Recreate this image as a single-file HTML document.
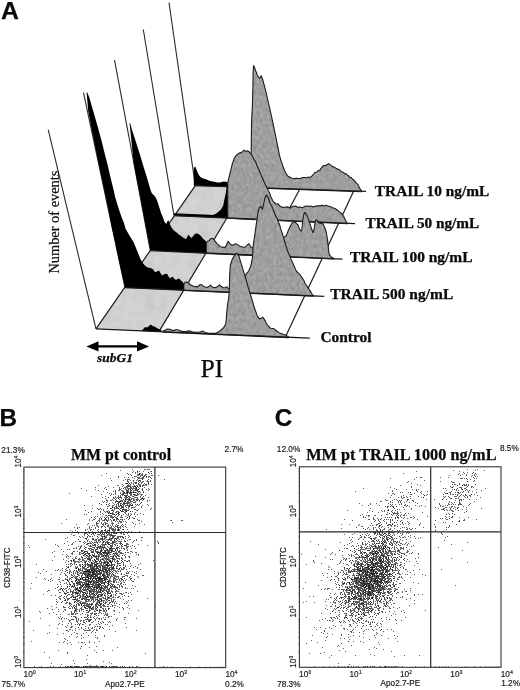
<!DOCTYPE html>
<html><head><meta charset="utf-8"><title>Figure</title>
<style>
html,body{margin:0;padding:0;background:#fff;}
body{width:520px;height:690px;overflow:hidden;font-family:"Liberation Sans",sans-serif;}
svg{display:block;}
</style></head><body>
<svg width="520" height="690" viewBox="0 0 520 690">
<defs>
<filter id="nz" x="0" y="0" width="100%" height="100%"><feTurbulence type="fractalNoise" baseFrequency="0.09" numOctaves="2" seed="3" result="t"/><feColorMatrix in="t" type="matrix" values="0 0 0 0 0  0 0 0 0 0  0 0 0 0 0  0.9 0 0 0 -0.38" result="a"/><feFlood flood-color="#b4b4b4"/><feComposite in2="a" operator="in" result="n"/><feMerge><feMergeNode in="SourceGraphic"/><feMergeNode in="n"/></feMerge><feComposite in2="SourceGraphic" operator="in"/></filter>
<filter id="nh" x="0" y="0" width="100%" height="100%"><feTurbulence type="fractalNoise" baseFrequency="0.35 0.22" numOctaves="2" seed="8" result="t"/><feColorMatrix in="t" type="matrix" values="0 0 0 0 0  0 0 0 0 0  0 0 0 0 0  1.1 0 0 0 -0.42" result="a"/><feFlood flood-color="#7c7c7c"/><feComposite in2="a" operator="in" result="n"/><feTurbulence type="fractalNoise" baseFrequency="0.3 0.25" numOctaves="2" seed="21" result="t2"/><feColorMatrix in="t2" type="matrix" values="0 0 0 0 0  0 0 0 0 0  0 0 0 0 0  1.0 0 0 0 -0.42" result="a2"/><feFlood flood-color="#c4c4c4"/><feComposite in2="a2" operator="in" result="n2"/><feMerge><feMergeNode in="SourceGraphic"/><feMergeNode in="n"/><feMergeNode in="n2"/></feMerge><feComposite in2="SourceGraphic" operator="in"/></filter>
</defs>
<rect width="520" height="690" fill="#fff"/>
<g id="panelA" opacity="0.999">
<polygon points="96.0,328.8 159.0,331.6 183.7,290.2 125.0,287.7" fill="#d3d3d3" filter="url(#nz)"/>
<polygon points="125.0,287.7 183.7,290.2 206.0,253.0 150.3,250.6" fill="#d3d3d3" filter="url(#nz)"/>
<polygon points="150.3,250.6 206.0,253.0 226.9,218.0 174.0,215.6" fill="#d3d3d3" filter="url(#nz)"/>
<polygon points="174.0,215.6 226.9,218.0 245.3,187.3 195.3,185.6" fill="#d3d3d3" filter="url(#nz)"/>
<line x1="96.0" y1="328.8" x2="195.3" y2="185.6" stroke="#1a1a1a" stroke-width="1.2"/>
<line x1="159.0" y1="331.6" x2="245.3" y2="187.3" stroke="#1a1a1a" stroke-width="1.2"/>
<line x1="283.1" y1="220.5" x2="299.7" y2="189.2" stroke="#1a1a1a" stroke-width="1.2"/>
<line x1="285.4" y1="337.1" x2="353.7" y2="191.0" stroke="#1a1a1a" stroke-width="1.2"/>
<line x1="169.0" y1="2.5" x2="195.3" y2="185.6" stroke="#2b2b2b" stroke-width="1.1"/>
<polygon points="227.5,182.5 228.9,182.5 230.3,181.7 231.7,181.8 233.1,181.5 234.4,181.9 235.8,181.7 237.2,181.7 238.6,180.7 240.0,180.9 241.4,180.4 242.8,180.5 244.1,180.6 245.5,180.0 246.9,180.1 248.2,180.4 249.6,180.2 251.0,179.7 251.0,178.7 251.0,177.3 251.0,176.0 251.0,174.7 251.0,173.3 251.1,172.0 251.1,170.7 251.1,169.4 251.1,168.0 251.1,166.7 251.1,165.3 251.1,164.0 251.1,162.7 251.1,161.3 251.1,160.0 251.2,158.7 251.2,157.4 251.2,156.0 251.2,154.7 251.2,153.3 251.2,152.0 251.2,150.7 251.2,149.3 251.2,148.0 251.3,146.6 251.3,145.3 251.3,144.0 251.3,142.6 251.3,141.3 251.3,140.0 251.4,138.7 251.4,137.3 251.4,136.0 251.4,134.7 251.4,133.3 251.4,132.0 251.5,130.7 251.5,129.3 251.5,128.0 251.5,126.7 251.5,125.3 251.5,124.0 251.6,122.7 251.6,121.4 251.6,120.0 251.7,118.6 251.8,117.2 251.8,115.9 251.9,114.4 252.0,113.0 252.1,111.5 252.2,110.2 252.2,108.8 252.3,107.4 252.4,106.1 252.4,104.7 252.5,103.3 252.5,102.0 252.5,100.7 252.6,99.4 252.6,98.0 252.6,96.6 252.7,95.3 252.7,94.0 252.7,92.6 252.8,91.3 252.8,90.0 252.8,88.7 252.9,87.3 252.9,86.0 252.9,84.7 252.9,83.3 253.0,82.0 253.0,80.6 253.0,79.3 253.0,78.0 253.1,76.7 253.1,75.3 253.1,74.0 253.1,72.7 253.2,71.3 253.2,70.0 253.4,68.5 253.6,66.7 253.8,65.4 254.2,66.7 254.7,68.0 255.2,69.4 255.7,71.1 256.4,72.5 257.0,74.5 257.8,75.7 258.5,77.3 259.7,78.3 261.2,75.8 261.8,77.3 262.4,78.3 262.8,80.0 263.1,81.3 263.5,82.3 263.8,83.8 264.2,85.0 264.6,86.3 264.9,87.9 265.3,89.2 265.6,90.7 266.0,92.0 266.3,93.1 266.6,94.6 266.9,95.8 267.2,97.5 267.5,98.8 267.8,100.1 268.1,101.3 268.4,102.6 268.7,104.2 269.0,105.6 269.3,106.7 269.7,108.2 270.0,109.4 270.3,111.0 270.6,112.4 270.9,113.5 271.2,115.0 271.5,116.4 271.8,117.6 272.1,119.2 272.4,120.4 272.7,121.7 272.9,123.2 273.2,124.6 273.5,125.8 273.8,127.2 274.1,128.8 274.4,130.1 274.7,131.3 274.9,132.6 275.2,133.8 275.4,135.1 275.7,136.4 276.0,137.8 276.2,139.0 276.5,140.3 276.7,141.6 277.0,143.0 277.3,144.2 277.5,145.8 277.8,147.1 278.1,148.2 278.3,149.6 278.6,151.1 278.9,152.2 279.1,153.5 279.4,155.1 279.8,156.4 280.2,157.7 280.6,159.3 281.0,160.6 281.4,161.7 281.9,162.9 282.3,164.4 282.8,165.7 283.2,167.0 283.8,168.5 284.3,169.8 284.8,171.4 285.4,172.3 286.1,173.5 286.8,174.6 287.5,176.0 288.8,176.5 290.0,177.3 291.2,178.0 292.5,178.3 295.0,178.6 296.5,178.2 298.0,178.4 300.0,178.5 301.2,178.4 302.5,177.5 305.0,177.5 306.2,177.9 307.5,177.1 310.0,177.5 312.0,175.9 313.5,174.3 315.0,172.2 317.0,172.0 318.5,170.4 320.0,169.9 321.5,167.7 323.0,165.9 324.5,165.6 326.0,165.4 327.5,164.2 328.8,163.6 330.5,164.9 332.5,166.6 334.0,167.0 335.5,168.0 337.5,169.0 338.8,169.4 340.0,170.3 341.2,171.7 342.5,172.1 343.8,172.8 345.0,173.8 346.2,173.9 347.5,175.1 348.8,176.0 350.0,177.3 351.2,177.6 352.5,179.2 353.8,179.8 355.0,181.3 356.2,182.8 357.5,184.1 358.2,185.3 359.0,186.8 359.8,188.5 360.5,189.4 361.5,190.8 361.5,191.6 227.5,187.0" fill="#9f9f9f" filter="url(#nh)"/>
<polygon points="227.5,182.5 228.9,182.5 230.3,181.7 231.7,181.8 233.1,181.5 234.4,181.9 235.8,181.7 237.2,181.7 238.6,180.7 240.0,180.9 241.4,180.4 242.8,180.5 244.1,180.6 245.5,180.0 246.9,180.1 248.2,180.4 249.6,180.2 251.0,179.7 251.0,178.7 251.0,177.3 251.0,176.0 251.0,174.7 251.0,173.3 251.1,172.0 251.1,170.7 251.1,169.4 251.1,168.0 251.1,166.7 251.1,165.3 251.1,164.0 251.1,162.7 251.1,161.3 251.1,160.0 251.2,158.7 251.2,157.4 251.2,156.0 251.2,154.7 251.2,153.3 251.2,152.0 251.2,150.7 251.2,149.3 251.2,148.0 251.3,146.6 251.3,145.3 251.3,144.0 251.3,142.6 251.3,141.3 251.3,140.0 251.4,138.7 251.4,137.3 251.4,136.0 251.4,134.7 251.4,133.3 251.4,132.0 251.5,130.7 251.5,129.3 251.5,128.0 251.5,126.7 251.5,125.3 251.5,124.0 251.6,122.7 251.6,121.4 251.6,120.0 251.7,118.6 251.8,117.2 251.8,115.9 251.9,114.4 252.0,113.0 252.1,111.5 252.2,110.2 252.2,108.8 252.3,107.4 252.4,106.1 252.4,104.7 252.5,103.3 252.5,102.0 252.5,100.7 252.6,99.4 252.6,98.0 252.6,96.6 252.7,95.3 252.7,94.0 252.7,92.6 252.8,91.3 252.8,90.0 252.8,88.7 252.9,87.3 252.9,86.0 252.9,84.7 252.9,83.3 253.0,82.0 253.0,80.6 253.0,79.3 253.0,78.0 253.1,76.7 253.1,75.3 253.1,74.0 253.1,72.7 253.2,71.3 253.2,70.0 253.4,68.5 253.6,66.7 253.8,65.4 254.2,66.7 254.7,68.0 255.2,69.4 255.7,71.1 256.4,72.5 257.0,74.5 257.8,75.7 258.5,77.3 259.7,78.3 261.2,75.8 261.8,77.3 262.4,78.3 262.8,80.0 263.1,81.3 263.5,82.3 263.8,83.8 264.2,85.0 264.6,86.3 264.9,87.9 265.3,89.2 265.6,90.7 266.0,92.0 266.3,93.1 266.6,94.6 266.9,95.8 267.2,97.5 267.5,98.8 267.8,100.1 268.1,101.3 268.4,102.6 268.7,104.2 269.0,105.6 269.3,106.7 269.7,108.2 270.0,109.4 270.3,111.0 270.6,112.4 270.9,113.5 271.2,115.0 271.5,116.4 271.8,117.6 272.1,119.2 272.4,120.4 272.7,121.7 272.9,123.2 273.2,124.6 273.5,125.8 273.8,127.2 274.1,128.8 274.4,130.1 274.7,131.3 274.9,132.6 275.2,133.8 275.4,135.1 275.7,136.4 276.0,137.8 276.2,139.0 276.5,140.3 276.7,141.6 277.0,143.0 277.3,144.2 277.5,145.8 277.8,147.1 278.1,148.2 278.3,149.6 278.6,151.1 278.9,152.2 279.1,153.5 279.4,155.1 279.8,156.4 280.2,157.7 280.6,159.3 281.0,160.6 281.4,161.7 281.9,162.9 282.3,164.4 282.8,165.7 283.2,167.0 283.8,168.5 284.3,169.8 284.8,171.4 285.4,172.3 286.1,173.5 286.8,174.6 287.5,176.0 288.8,176.5 290.0,177.3 291.2,178.0 292.5,178.3 295.0,178.6 296.5,178.2 298.0,178.4 300.0,178.5 301.2,178.4 302.5,177.5 305.0,177.5 306.2,177.9 307.5,177.1 310.0,177.5 312.0,175.9 313.5,174.3 315.0,172.2 317.0,172.0 318.5,170.4 320.0,169.9 321.5,167.7 323.0,165.9 324.5,165.6 326.0,165.4 327.5,164.2 328.8,163.6 330.5,164.9 332.5,166.6 334.0,167.0 335.5,168.0 337.5,169.0 338.8,169.4 340.0,170.3 341.2,171.7 342.5,172.1 343.8,172.8 345.0,173.8 346.2,173.9 347.5,175.1 348.8,176.0 350.0,177.3 351.2,177.6 352.5,179.2 353.8,179.8 355.0,181.3 356.2,182.8 357.5,184.1 358.2,185.3 359.0,186.8 359.8,188.5 360.5,189.4 361.5,190.8 361.5,191.6 227.5,187.0" fill="none" stroke="#1a1a1a" stroke-width="1.1" stroke-linejoin="round"/>
<polygon points="193.8,168.0 195.3,166.5 197.0,171.0 198.5,174.5 200.4,177.0 203.0,178.5 206.0,179.3 210.0,181.0 213.0,181.6 217.5,182.4 220.0,182.6 223.7,181.4 226.0,181.8 227.5,182.5 227.5,187.0 193.8,185.8" fill="#000"/>
<line x1="195.3" y1="185.6" x2="366.0" y2="191.4" stroke="#1a1a1a" stroke-width="1.3"/>
<line x1="143.3" y1="29.5" x2="174.0" y2="215.6" stroke="#2b2b2b" stroke-width="1.1"/>
<polygon points="227.7,182.8 228.0,181.6 228.3,180.2 228.6,179.0 228.9,177.7 229.2,176.6 229.6,174.8 229.9,173.6 230.3,171.9 230.6,170.6 231.0,169.4 231.3,167.9 231.6,166.5 232.0,165.3 232.3,163.6 232.9,162.1 233.4,160.8 233.9,159.5 234.5,157.8 235.7,156.1 237.0,154.6 238.3,153.8 240.0,152.6 241.5,153.0 243.0,150.9 244.5,150.3 246.0,151.6 247.5,150.8 248.8,151.4 249.7,152.7 250.5,153.5 251.5,154.5 252.5,156.5 253.2,157.4 253.8,158.9 254.5,160.3 255.1,161.1 255.7,162.3 256.3,163.6 256.9,165.2 257.4,166.5 258.0,168.1 258.7,169.6 259.3,170.8 260.0,172.6 260.7,173.9 261.3,175.5 262.0,177.2 262.6,178.6 263.2,179.6 263.8,181.3 264.4,182.4 264.9,183.5 265.5,185.2 266.2,186.3 266.8,187.4 267.5,188.9 268.1,190.3 268.8,191.6 269.4,192.8 270.0,194.3 270.6,196.1 271.2,197.5 271.9,198.7 272.5,200.2 273.5,201.6 274.5,202.8 276.3,204.2 278.0,203.8 279.0,205.2 280.0,206.0 281.2,206.7 282.5,207.4 285.0,207.3 287.5,206.9 288.8,207.2 290.0,208.3 291.2,207.6 292.5,206.5 295.0,206.1 296.2,206.2 297.5,207.4 300.0,207.0 302.5,207.7 303.8,206.9 305.0,206.3 307.5,206.1 310.0,206.2 311.5,206.1 313.0,207.0 314.5,206.4 316.0,205.9 317.3,206.1 318.7,205.6 320.0,206.3 321.5,205.2 323.0,205.6 324.5,205.8 326.0,205.3 327.5,206.1 330.0,206.5 331.2,206.9 332.5,207.9 333.8,208.0 335.0,208.4 336.2,209.3 337.5,210.2 339.5,211.9 341.0,213.0 342.5,214.4 343.2,215.9 344.0,216.9 345.2,219.5 346.2,221.5 347.2,223.2 347.2,223.7 227.7,218.3" fill="#9f9f9f" filter="url(#nh)"/>
<polygon points="227.7,182.8 228.0,181.6 228.3,180.2 228.6,179.0 228.9,177.7 229.2,176.6 229.6,174.8 229.9,173.6 230.3,171.9 230.6,170.6 231.0,169.4 231.3,167.9 231.6,166.5 232.0,165.3 232.3,163.6 232.9,162.1 233.4,160.8 233.9,159.5 234.5,157.8 235.7,156.1 237.0,154.6 238.3,153.8 240.0,152.6 241.5,153.0 243.0,150.9 244.5,150.3 246.0,151.6 247.5,150.8 248.8,151.4 249.7,152.7 250.5,153.5 251.5,154.5 252.5,156.5 253.2,157.4 253.8,158.9 254.5,160.3 255.1,161.1 255.7,162.3 256.3,163.6 256.9,165.2 257.4,166.5 258.0,168.1 258.7,169.6 259.3,170.8 260.0,172.6 260.7,173.9 261.3,175.5 262.0,177.2 262.6,178.6 263.2,179.6 263.8,181.3 264.4,182.4 264.9,183.5 265.5,185.2 266.2,186.3 266.8,187.4 267.5,188.9 268.1,190.3 268.8,191.6 269.4,192.8 270.0,194.3 270.6,196.1 271.2,197.5 271.9,198.7 272.5,200.2 273.5,201.6 274.5,202.8 276.3,204.2 278.0,203.8 279.0,205.2 280.0,206.0 281.2,206.7 282.5,207.4 285.0,207.3 287.5,206.9 288.8,207.2 290.0,208.3 291.2,207.6 292.5,206.5 295.0,206.1 296.2,206.2 297.5,207.4 300.0,207.0 302.5,207.7 303.8,206.9 305.0,206.3 307.5,206.1 310.0,206.2 311.5,206.1 313.0,207.0 314.5,206.4 316.0,205.9 317.3,206.1 318.7,205.6 320.0,206.3 321.5,205.2 323.0,205.6 324.5,205.8 326.0,205.3 327.5,206.1 330.0,206.5 331.2,206.9 332.5,207.9 333.8,208.0 335.0,208.4 336.2,209.3 337.5,210.2 339.5,211.9 341.0,213.0 342.5,214.4 343.2,215.9 344.0,216.9 345.2,219.5 346.2,221.5 347.2,223.2 347.2,223.7 227.7,218.3" fill="none" stroke="#1a1a1a" stroke-width="1.1" stroke-linejoin="round"/>
<polygon points="174.0,213.2 190.0,214.0 205.0,214.6 212.5,214.9 215.5,213.9 217.8,212.2 221.1,209.5 223.2,205.5 224.5,199.0 225.9,192.5 226.6,187.0 227.5,182.8 227.5,218.3 174.0,215.9" fill="#000"/>
<line x1="174.0" y1="215.6" x2="355.0" y2="223.7" stroke="#1a1a1a" stroke-width="1.3"/>
<line x1="114.5" y1="60.0" x2="150.3" y2="250.6" stroke="#2b2b2b" stroke-width="1.1"/>
<polygon points="206.2,242.5 207.5,241.3 209.0,240.8 210.5,238.8 212.5,238.3 213.8,239.5 215.0,241.1 216.0,242.4 217.0,243.6 218.5,244.9 220.0,246.4 221.2,246.8 222.5,247.1 225.0,247.6 225.8,246.1 226.5,245.1 227.0,243.6 227.5,242.7 228.0,241.3 229.5,243.1 230.4,244.1 231.3,245.1 233.0,245.1 234.6,244.3 236.3,243.9 238.0,244.9 240.0,246.2 242.5,247.1 245.0,247.2 247.0,245.4 248.8,243.7 250.0,245.5 251.3,247.5 253.0,247.9 254.4,247.7 255.8,247.9 257.2,248.4 258.6,248.1 260.0,248.3 261.4,247.8 262.9,247.3 264.3,247.2 265.7,246.5 267.1,246.4 268.6,246.2 270.0,246.1 271.2,245.3 272.5,244.5 273.8,243.7 275.0,242.8 276.2,242.2 277.5,241.7 278.8,240.9 280.0,239.8 281.3,238.8 282.7,238.0 284.0,237.1 285.9,236.1 286.4,235.1 287.0,233.8 287.5,232.6 288.2,230.6 289.0,228.9 289.8,227.2 290.5,225.7 291.2,224.5 291.9,223.4 293.5,222.0 295.3,222.4 296.6,223.7 298.0,225.0 298.6,226.7 299.2,228.0 299.8,229.2 300.3,230.7 301.6,230.9 301.8,229.7 302.0,228.2 302.1,226.5 302.3,225.0 302.4,223.6 302.6,222.5 302.7,221.1 302.9,219.7 303.0,218.5 303.3,217.3 303.5,215.8 303.8,214.6 304.7,212.5 305.7,213.5 306.7,215.0 307.2,216.4 307.7,217.6 308.2,218.6 308.7,219.9 309.1,221.1 309.5,222.6 310.0,223.8 310.4,225.3 310.8,226.6 311.3,228.0 311.8,229.5 312.3,231.0 312.8,232.6 313.5,231.0 314.1,229.2 314.3,227.7 314.6,226.0 314.8,224.4 315.0,223.1 315.3,221.8 315.5,220.5 316.8,219.8 317.5,221.0 318.2,222.4 320.2,223.3 321.5,223.7 322.9,223.5 323.6,225.1 324.2,226.6 324.9,227.9 325.3,229.1 325.8,230.5 326.2,232.0 326.4,233.3 326.7,234.7 326.9,236.0 327.2,237.4 327.4,238.6 327.5,239.9 327.7,241.3 327.8,242.7 328.0,244.1 328.1,245.4 328.2,246.7 328.4,248.1 328.5,249.4 328.7,250.8 328.9,252.0 329.1,253.4 329.3,254.8 330.1,255.5 331.0,256.7 332.5,257.7 334.0,258.4 334.0,259.0 206.2,253.4" fill="#9f9f9f" filter="url(#nh)"/>
<polygon points="206.2,242.5 207.5,241.3 209.0,240.8 210.5,238.8 212.5,238.3 213.8,239.5 215.0,241.1 216.0,242.4 217.0,243.6 218.5,244.9 220.0,246.4 221.2,246.8 222.5,247.1 225.0,247.6 225.8,246.1 226.5,245.1 227.0,243.6 227.5,242.7 228.0,241.3 229.5,243.1 230.4,244.1 231.3,245.1 233.0,245.1 234.6,244.3 236.3,243.9 238.0,244.9 240.0,246.2 242.5,247.1 245.0,247.2 247.0,245.4 248.8,243.7 250.0,245.5 251.3,247.5 253.0,247.9 254.4,247.7 255.8,247.9 257.2,248.4 258.6,248.1 260.0,248.3 261.4,247.8 262.9,247.3 264.3,247.2 265.7,246.5 267.1,246.4 268.6,246.2 270.0,246.1 271.2,245.3 272.5,244.5 273.8,243.7 275.0,242.8 276.2,242.2 277.5,241.7 278.8,240.9 280.0,239.8 281.3,238.8 282.7,238.0 284.0,237.1 285.9,236.1 286.4,235.1 287.0,233.8 287.5,232.6 288.2,230.6 289.0,228.9 289.8,227.2 290.5,225.7 291.2,224.5 291.9,223.4 293.5,222.0 295.3,222.4 296.6,223.7 298.0,225.0 298.6,226.7 299.2,228.0 299.8,229.2 300.3,230.7 301.6,230.9 301.8,229.7 302.0,228.2 302.1,226.5 302.3,225.0 302.4,223.6 302.6,222.5 302.7,221.1 302.9,219.7 303.0,218.5 303.3,217.3 303.5,215.8 303.8,214.6 304.7,212.5 305.7,213.5 306.7,215.0 307.2,216.4 307.7,217.6 308.2,218.6 308.7,219.9 309.1,221.1 309.5,222.6 310.0,223.8 310.4,225.3 310.8,226.6 311.3,228.0 311.8,229.5 312.3,231.0 312.8,232.6 313.5,231.0 314.1,229.2 314.3,227.7 314.6,226.0 314.8,224.4 315.0,223.1 315.3,221.8 315.5,220.5 316.8,219.8 317.5,221.0 318.2,222.4 320.2,223.3 321.5,223.7 322.9,223.5 323.6,225.1 324.2,226.6 324.9,227.9 325.3,229.1 325.8,230.5 326.2,232.0 326.4,233.3 326.7,234.7 326.9,236.0 327.2,237.4 327.4,238.6 327.5,239.9 327.7,241.3 327.8,242.7 328.0,244.1 328.1,245.4 328.2,246.7 328.4,248.1 328.5,249.4 328.7,250.8 328.9,252.0 329.1,253.4 329.3,254.8 330.1,255.5 331.0,256.7 332.5,257.7 334.0,258.4 334.0,259.0 206.2,253.4" fill="none" stroke="#1a1a1a" stroke-width="1.1" stroke-linejoin="round"/>
<polygon points="129.5,122.7 131.3,140.0 133.6,163.0 138.9,190.0 143.4,213.8 147.3,234.6 150.3,250.6 206.2,253.5 206.2,241.8 205.2,240.6 204.0,239.4 202.7,238.3 201.0,236.0 199.2,234.6 197.5,233.4 195.8,233.6 194.4,234.6 193.0,236.2 191.5,237.9 190.0,236.5 188.4,234.7 187.4,236.6 186.3,238.9 184.0,238.2 182.0,236.8 180.3,235.6 178.5,234.2 176.7,232.6 174.8,231.2 173.0,229.4 171.4,227.3 169.5,223.4 168.3,219.9 167.3,221.6 166.2,224.1 164.6,222.0 163.0,217.8 161.0,212.7 159.5,208.0 157.7,202.3 156.0,198.0 154.2,195.4 152.0,193.5 150.8,190.8 148.5,183.0 146.0,174.6 143.0,165.0 140.4,156.0 137.5,147.0 134.6,137.7 132.0,130.0 130.2,123.2 129.5,122.7" fill="#000"/>
<line x1="150.3" y1="250.6" x2="342.5" y2="259.1" stroke="#1a1a1a" stroke-width="1.3"/>
<line x1="83.5" y1="92.6" x2="125.0" y2="287.7" stroke="#2b2b2b" stroke-width="1.1"/>
<polygon points="183.8,284.0 185.0,282.2 186.5,282.0 188.5,282.7 190.0,284.6 191.5,285.2 193.0,285.9 195.0,286.8 196.3,286.4 197.7,286.9 199.5,284.8 201.0,284.6 202.3,285.2 203.4,286.2 204.5,286.8 207.0,287.6 209.0,286.6 210.5,285.2 211.5,286.2 213.5,287.6 216.0,287.5 218.0,286.1 219.5,284.9 220.8,286.0 223.0,287.7 225.4,287.6 227.0,286.7 228.5,288.8 230.2,288.9 232.0,289.2 233.3,289.2 234.7,288.4 236.0,288.1 237.3,288.0 238.7,287.8 240.0,288.1 240.5,286.8 241.1,285.3 241.6,284.3 242.2,283.0 242.7,281.5 243.2,280.4 243.8,279.2 244.3,277.7 244.9,276.7 245.4,275.5 246.3,273.9 247.1,272.8 248.0,271.8 248.7,270.7 249.3,269.5 249.9,268.0 250.6,266.8 250.9,265.1 251.2,263.9 251.5,262.4 251.8,260.8 252.1,259.5 252.4,258.1 252.5,256.7 252.6,255.2 252.7,254.0 252.8,252.6 252.8,251.2 252.9,249.9 253.0,248.5 253.1,247.2 253.2,245.8 253.4,244.5 253.6,243.2 253.8,241.6 254.0,240.5 254.2,239.1 254.4,237.7 254.6,236.4 254.8,234.9 255.0,233.7 255.2,232.4 255.4,230.9 255.6,229.6 255.8,228.2 255.9,226.9 256.1,225.5 256.3,224.2 256.5,222.8 256.7,221.6 256.9,220.1 257.1,218.5 257.3,217.2 257.5,215.6 257.7,214.2 257.9,212.8 258.2,211.5 258.6,210.0 258.9,209.0 259.3,207.5 261.0,206.5 261.7,208.2 262.4,209.2 262.7,208.1 263.0,206.8 263.4,205.3 263.7,203.9 264.0,202.7 264.3,200.9 264.6,199.6 264.9,198.0 265.6,196.6 266.3,195.1 267.1,196.2 268.0,197.2 268.4,198.6 268.9,199.6 269.3,201.0 269.7,202.5 270.4,203.6 271.0,205.0 271.7,206.3 272.4,207.6 272.9,208.9 273.4,210.5 274.0,211.7 274.5,213.2 275.0,214.4 275.6,215.7 276.3,216.9 277.0,218.3 277.6,219.5 278.1,221.1 278.6,222.6 279.2,223.8 279.7,225.2 280.2,226.7 280.6,228.2 281.1,229.8 281.5,231.1 281.9,232.4 282.4,233.8 282.8,235.3 283.2,236.7 283.7,238.2 284.1,239.5 284.5,241.1 285.0,242.5 285.4,244.2 285.8,245.4 286.3,246.7 286.7,247.9 287.1,249.5 287.6,250.7 288.0,252.1 288.5,253.2 289.0,254.4 289.6,255.6 290.1,256.7 290.6,257.8 291.1,259.4 291.6,260.4 292.2,261.7 292.7,262.8 293.2,263.8 293.7,265.3 294.2,266.2 294.8,267.4 295.3,268.8 295.8,269.9 296.6,271.5 297.5,272.2 299.3,273.8 300.2,275.0 301.1,276.4 301.9,277.4 302.8,278.8 303.5,280.0 304.2,281.3 304.8,282.7 305.5,284.0 306.2,284.9 307.1,286.3 307.9,287.6 308.8,288.9 309.7,290.2 310.6,291.4 311.4,292.9 312.3,294.6 313.7,295.8 313.7,296.1 183.8,290.5" fill="#9f9f9f" filter="url(#nh)"/>
<polygon points="183.8,284.0 185.0,282.2 186.5,282.0 188.5,282.7 190.0,284.6 191.5,285.2 193.0,285.9 195.0,286.8 196.3,286.4 197.7,286.9 199.5,284.8 201.0,284.6 202.3,285.2 203.4,286.2 204.5,286.8 207.0,287.6 209.0,286.6 210.5,285.2 211.5,286.2 213.5,287.6 216.0,287.5 218.0,286.1 219.5,284.9 220.8,286.0 223.0,287.7 225.4,287.6 227.0,286.7 228.5,288.8 230.2,288.9 232.0,289.2 233.3,289.2 234.7,288.4 236.0,288.1 237.3,288.0 238.7,287.8 240.0,288.1 240.5,286.8 241.1,285.3 241.6,284.3 242.2,283.0 242.7,281.5 243.2,280.4 243.8,279.2 244.3,277.7 244.9,276.7 245.4,275.5 246.3,273.9 247.1,272.8 248.0,271.8 248.7,270.7 249.3,269.5 249.9,268.0 250.6,266.8 250.9,265.1 251.2,263.9 251.5,262.4 251.8,260.8 252.1,259.5 252.4,258.1 252.5,256.7 252.6,255.2 252.7,254.0 252.8,252.6 252.8,251.2 252.9,249.9 253.0,248.5 253.1,247.2 253.2,245.8 253.4,244.5 253.6,243.2 253.8,241.6 254.0,240.5 254.2,239.1 254.4,237.7 254.6,236.4 254.8,234.9 255.0,233.7 255.2,232.4 255.4,230.9 255.6,229.6 255.8,228.2 255.9,226.9 256.1,225.5 256.3,224.2 256.5,222.8 256.7,221.6 256.9,220.1 257.1,218.5 257.3,217.2 257.5,215.6 257.7,214.2 257.9,212.8 258.2,211.5 258.6,210.0 258.9,209.0 259.3,207.5 261.0,206.5 261.7,208.2 262.4,209.2 262.7,208.1 263.0,206.8 263.4,205.3 263.7,203.9 264.0,202.7 264.3,200.9 264.6,199.6 264.9,198.0 265.6,196.6 266.3,195.1 267.1,196.2 268.0,197.2 268.4,198.6 268.9,199.6 269.3,201.0 269.7,202.5 270.4,203.6 271.0,205.0 271.7,206.3 272.4,207.6 272.9,208.9 273.4,210.5 274.0,211.7 274.5,213.2 275.0,214.4 275.6,215.7 276.3,216.9 277.0,218.3 277.6,219.5 278.1,221.1 278.6,222.6 279.2,223.8 279.7,225.2 280.2,226.7 280.6,228.2 281.1,229.8 281.5,231.1 281.9,232.4 282.4,233.8 282.8,235.3 283.2,236.7 283.7,238.2 284.1,239.5 284.5,241.1 285.0,242.5 285.4,244.2 285.8,245.4 286.3,246.7 286.7,247.9 287.1,249.5 287.6,250.7 288.0,252.1 288.5,253.2 289.0,254.4 289.6,255.6 290.1,256.7 290.6,257.8 291.1,259.4 291.6,260.4 292.2,261.7 292.7,262.8 293.2,263.8 293.7,265.3 294.2,266.2 294.8,267.4 295.3,268.8 295.8,269.9 296.6,271.5 297.5,272.2 299.3,273.8 300.2,275.0 301.1,276.4 301.9,277.4 302.8,278.8 303.5,280.0 304.2,281.3 304.8,282.7 305.5,284.0 306.2,284.9 307.1,286.3 307.9,287.6 308.8,288.9 309.7,290.2 310.6,291.4 311.4,292.9 312.3,294.6 313.7,295.8 313.7,296.1 183.8,290.5" fill="none" stroke="#1a1a1a" stroke-width="1.1" stroke-linejoin="round"/>
<polygon points="86.6,92.0 88.2,111.0 91.0,126.0 97.3,157.0 102.5,181.5 107.0,203.0 111.2,224.6 114.6,240.0 118.8,260.0 125.0,287.7 183.8,290.6 183.8,283.5 182.3,281.5 180.7,280.3 179.2,278.5 177.6,279.0 176.0,280.0 174.5,279.0 173.0,277.0 171.5,277.0 170.0,278.5 168.5,276.5 167.0,273.8 164.5,274.0 162.3,275.4 160.7,273.5 159.2,270.8 157.6,271.0 156.0,272.3 154.5,271.5 153.0,269.2 150.5,268.0 148.5,267.7 146.0,266.5 144.2,264.8 142.3,262.5 140.5,259.0 138.4,254.0 136.0,248.0 133.5,242.0 130.7,237.5 128.0,233.0 125.5,228.5 124.0,223.0 121.7,217.5 119.8,212.0 117.5,205.0 115.3,197.5 113.0,187.5 110.4,177.0 107.3,163.5 105.3,156.0 101.5,140.5 97.5,126.0 93.8,113.0 92.3,108.0 89.5,98.0 87.3,92.6 86.6,92.0" fill="#000"/>
<line x1="125.0" y1="287.7" x2="324.2" y2="296.3" stroke="#1a1a1a" stroke-width="1.3"/>
<line x1="48.2" y1="129.7" x2="96.0" y2="328.8" stroke="#2b2b2b" stroke-width="1.1"/>
<polygon points="163.2,331.0 165.0,330.2 166.2,329.6 167.5,329.1 170.0,329.2 172.0,330.3 174.0,330.4 176.0,329.8 178.0,329.8 180.0,330.9 182.3,331.4 183.7,331.6 185.0,331.9 186.8,331.4 188.5,330.9 191.0,331.3 192.2,332.0 193.5,332.1 196.0,332.3 197.5,332.3 199.0,332.3 200.7,331.9 202.3,331.1 203.7,331.7 205.0,332.3 206.8,332.9 208.5,333.2 211.0,333.3 213.5,333.3 215.0,333.5 216.5,332.8 218.0,332.3 219.2,331.2 220.5,330.4 221.6,329.3 222.7,328.5 223.6,327.6 224.4,326.4 225.1,324.9 225.8,323.3 226.0,321.9 226.2,320.1 226.3,318.6 226.4,317.3 226.5,315.9 226.6,314.5 226.7,313.1 226.8,311.7 227.0,310.5 227.1,309.2 227.2,307.9 227.3,306.6 227.5,304.9 227.8,303.4 228.0,301.9 228.3,300.3 228.5,298.7 228.7,297.3 228.8,295.7 229.0,294.3 229.1,292.8 229.3,291.2 229.3,289.9 229.4,288.4 229.4,287.1 229.4,285.8 229.5,284.4 229.5,283.0 229.5,281.5 229.5,280.1 229.6,278.7 229.6,277.2 229.6,275.8 229.7,274.4 229.8,272.9 229.9,271.5 230.0,270.0 230.1,268.3 230.3,266.6 230.4,265.0 230.9,263.5 231.4,262.0 231.9,260.3 232.4,259.1 233.0,258.0 234.2,255.8 235.4,254.4 236.5,253.3 237.7,254.5 238.8,255.9 239.2,257.0 239.6,258.3 240.0,259.7 240.4,261.0 240.8,262.1 241.2,263.7 241.6,264.9 242.0,266.1 242.3,267.2 242.7,268.7 243.1,269.9 243.5,271.3 243.9,272.5 244.3,273.7 244.7,275.1 245.0,276.4 245.4,277.5 245.8,278.8 246.2,280.0 246.5,281.5 246.9,282.7 247.3,284.1 247.6,285.3 248.0,286.4 248.4,287.9 248.8,289.0 249.2,290.5 249.6,291.6 250.0,293.0 250.4,294.1 250.8,295.4 251.2,296.8 251.6,298.2 251.9,299.3 252.3,300.5 252.7,301.9 253.1,303.1 253.5,304.5 253.8,305.8 254.2,307.0 254.6,308.3 255.0,309.5 255.5,310.9 255.9,312.1 256.4,313.2 256.8,314.7 257.3,315.6 258.5,317.4 259.6,318.9 261.2,318.2 262.7,317.2 264.0,318.9 265.0,320.6 265.8,322.1 266.5,323.5 267.3,324.8 268.3,326.0 269.4,327.1 270.4,328.2 272.5,328.5 274.2,328.8 276.0,330.5 278.1,332.0 279.6,332.9 281.2,333.4 282.7,334.3 284.2,334.5 285.8,335.2 287.3,336.1 288.5,336.9 288.5,337.6 163.2,332.1" fill="#9f9f9f" filter="url(#nh)"/>
<polygon points="163.2,331.0 165.0,330.2 166.2,329.6 167.5,329.1 170.0,329.2 172.0,330.3 174.0,330.4 176.0,329.8 178.0,329.8 180.0,330.9 182.3,331.4 183.7,331.6 185.0,331.9 186.8,331.4 188.5,330.9 191.0,331.3 192.2,332.0 193.5,332.1 196.0,332.3 197.5,332.3 199.0,332.3 200.7,331.9 202.3,331.1 203.7,331.7 205.0,332.3 206.8,332.9 208.5,333.2 211.0,333.3 213.5,333.3 215.0,333.5 216.5,332.8 218.0,332.3 219.2,331.2 220.5,330.4 221.6,329.3 222.7,328.5 223.6,327.6 224.4,326.4 225.1,324.9 225.8,323.3 226.0,321.9 226.2,320.1 226.3,318.6 226.4,317.3 226.5,315.9 226.6,314.5 226.7,313.1 226.8,311.7 227.0,310.5 227.1,309.2 227.2,307.9 227.3,306.6 227.5,304.9 227.8,303.4 228.0,301.9 228.3,300.3 228.5,298.7 228.7,297.3 228.8,295.7 229.0,294.3 229.1,292.8 229.3,291.2 229.3,289.9 229.4,288.4 229.4,287.1 229.4,285.8 229.5,284.4 229.5,283.0 229.5,281.5 229.5,280.1 229.6,278.7 229.6,277.2 229.6,275.8 229.7,274.4 229.8,272.9 229.9,271.5 230.0,270.0 230.1,268.3 230.3,266.6 230.4,265.0 230.9,263.5 231.4,262.0 231.9,260.3 232.4,259.1 233.0,258.0 234.2,255.8 235.4,254.4 236.5,253.3 237.7,254.5 238.8,255.9 239.2,257.0 239.6,258.3 240.0,259.7 240.4,261.0 240.8,262.1 241.2,263.7 241.6,264.9 242.0,266.1 242.3,267.2 242.7,268.7 243.1,269.9 243.5,271.3 243.9,272.5 244.3,273.7 244.7,275.1 245.0,276.4 245.4,277.5 245.8,278.8 246.2,280.0 246.5,281.5 246.9,282.7 247.3,284.1 247.6,285.3 248.0,286.4 248.4,287.9 248.8,289.0 249.2,290.5 249.6,291.6 250.0,293.0 250.4,294.1 250.8,295.4 251.2,296.8 251.6,298.2 251.9,299.3 252.3,300.5 252.7,301.9 253.1,303.1 253.5,304.5 253.8,305.8 254.2,307.0 254.6,308.3 255.0,309.5 255.5,310.9 255.9,312.1 256.4,313.2 256.8,314.7 257.3,315.6 258.5,317.4 259.6,318.9 261.2,318.2 262.7,317.2 264.0,318.9 265.0,320.6 265.8,322.1 266.5,323.5 267.3,324.8 268.3,326.0 269.4,327.1 270.4,328.2 272.5,328.5 274.2,328.8 276.0,330.5 278.1,332.0 279.6,332.9 281.2,333.4 282.7,334.3 284.2,334.5 285.8,335.2 287.3,336.1 288.5,336.9 288.5,337.6 163.2,332.1" fill="none" stroke="#1a1a1a" stroke-width="1.1" stroke-linejoin="round"/>
<polygon points="141.5,330.4 143.0,329.4 144.6,327.6 145.6,326.9 147.0,327.6 148.5,326.6 149.8,325.2 150.8,324.6 152.2,325.6 153.2,326.6 154.3,326.3 155.6,327.2 157.7,328.6 160.0,329.6 161.5,330.6 162.3,331.4 162.3,332.0 141.5,331.1" fill="#000"/>
<line x1="96.0" y1="328.8" x2="309.8" y2="338.2" stroke="#1a1a1a" stroke-width="1.3"/>
<text x="0.9" y="19.2" font-family="'Liberation Sans', serif" font-size="24.0px" font-weight="bold" font-style="normal" text-anchor="start" fill="#0a0a0a" stroke="#0a0a0a" stroke-width="0.25" textLength="17.9" lengthAdjust="spacingAndGlyphs">A</text>
<text x="-0.5" y="426.4" font-family="'Liberation Sans', serif" font-size="24.3px" font-weight="bold" font-style="normal" text-anchor="start" fill="#0a0a0a" stroke="#0a0a0a" stroke-width="0.25" >B</text>
<text x="274.7" y="426.3" font-family="'Liberation Sans', serif" font-size="24.3px" font-weight="bold" font-style="normal" text-anchor="start" fill="#0a0a0a" stroke="#0a0a0a" stroke-width="0.25" >C</text>
<text transform="translate(59,273.6) rotate(-90)" font-family="'Liberation Serif', serif" font-size="15.2px" textLength="103" lengthAdjust="spacingAndGlyphs" fill="#0a0a0a" stroke="#0a0a0a" stroke-width="0.2">Number of events</text>
<text x="374.8" y="196.0" font-family="'Liberation Serif', serif" font-size="13.7px" font-weight="bold" font-style="normal" text-anchor="start" fill="#0a0a0a" stroke="#0a0a0a" stroke-width="0.25" textLength="114.4" lengthAdjust="spacingAndGlyphs">TRAIL 10 ng/mL</text>
<text x="365.6" y="228.3" font-family="'Liberation Serif', serif" font-size="13.7px" font-weight="bold" font-style="normal" text-anchor="start" fill="#0a0a0a" stroke="#0a0a0a" stroke-width="0.25" textLength="113.6" lengthAdjust="spacingAndGlyphs">TRAIL 50 ng/mL</text>
<text x="349.9" y="262.2" font-family="'Liberation Serif', serif" font-size="13.7px" font-weight="bold" font-style="normal" text-anchor="start" fill="#0a0a0a" stroke="#0a0a0a" stroke-width="0.25" textLength="122.6" lengthAdjust="spacingAndGlyphs">TRAIL 100 ng/mL</text>
<text x="330.3" y="298.8" font-family="'Liberation Serif', serif" font-size="13.7px" font-weight="bold" font-style="normal" text-anchor="start" fill="#0a0a0a" stroke="#0a0a0a" stroke-width="0.25" textLength="122.9" lengthAdjust="spacingAndGlyphs">TRAIL 500 ng/mL</text>
<text x="320.5" y="342.3" font-family="'Liberation Serif', serif" font-size="13.7px" font-weight="bold" font-style="normal" text-anchor="start" fill="#0a0a0a" stroke="#0a0a0a" stroke-width="0.25" textLength="51.0" lengthAdjust="spacingAndGlyphs">Control</text>
<text x="97.0" y="361.9" font-family="'Liberation Serif', serif" font-size="12.8px" font-weight="bold" font-style="italic" text-anchor="start" fill="#0a0a0a" stroke="#0a0a0a" stroke-width="0.25" textLength="36.0" lengthAdjust="spacingAndGlyphs">subG1</text>
<text x="200.6" y="376.5" font-family="'Liberation Serif', serif" font-size="24.8px" font-weight="normal" font-style="normal" text-anchor="start" fill="#0a0a0a" stroke="#0a0a0a" stroke-width="0.25" textLength="22.8" lengthAdjust="spacingAndGlyphs">PI</text>
<line x1="94" y1="346.4" x2="141" y2="346.4" stroke="#000" stroke-width="2.4"/>
<polygon points="86.4,346.4 98.5,341.2 98.5,351.6" fill="#000"/>
<polygon points="149.1,346.4 137,341.2 137,351.6" fill="#000"/>
</g>
<g id="scatter" opacity="0.999">
<path d="M132 469.5h1M120 470.5h1M143 471.5h1M150 471.5h1M127 473.5h1M135 473.5h1M139 473.5h1M130 474.5h1M139 474.5h1M142 474.5h1M145 474.5h1M101 475.5h1M131 475.5h1M138 475.5h1M158 475.5h1M143 476.5h1M149 476.5h1M132 477.5h1M142 477.5h1M148 477.5h1M134 478.5h1M142 478.5h2M125 479.5h1M127 479.5h1M137 479.5h1M142 479.5h1M164 479.5h1M127 480.5h1M130 480.5h1M133 480.5h1M139 480.5h1M147 480.5h1M128 481.5h1M138 481.5h1M140 481.5h1M142 481.5h2M131 482.5h1M134 482.5h1M136 482.5h1M127 483.5h1M141 483.5h1M148 483.5h1M140 484.5h1M143 484.5h1M145 484.5h1M148 484.5h1M117 485.5h1M130 485.5h1M137 485.5h1M142 485.5h3M146 485.5h1M130 486.5h1M134 486.5h1M137 486.5h1M142 486.5h1M127 487.5h1M135 487.5h2M138 487.5h1M119 488.5h1M121 488.5h1M125 488.5h1M131 488.5h1M136 488.5h1M142 488.5h1M119 489.5h1M126 489.5h1M135 489.5h1M138 489.5h1M142 489.5h1M121 490.5h2M131 490.5h1M133 490.5h1M136 490.5h1M115 491.5h1M130 491.5h1M133 491.5h1M143 491.5h1M124 492.5h1M127 492.5h1M129 492.5h2M133 492.5h1M135 492.5h1M143 492.5h1M120 493.5h1M122 493.5h2M126 493.5h2M129 493.5h3M137 493.5h1M111 494.5h1M115 494.5h1M123 494.5h1M131 494.5h1M138 494.5h1M120 495.5h1M124 495.5h1M130 495.5h1M135 495.5h2M141 495.5h1M91 496.5h1M115 496.5h1M125 496.5h2M128 496.5h1M140 496.5h1M143 496.5h1M102 497.5h1M117 497.5h1M119 497.5h1M124 497.5h1M127 497.5h1M135 497.5h1M137 497.5h1M148 497.5h1M105 498.5h1M113 498.5h1M118 498.5h1M126 498.5h1M128 498.5h1M137 498.5h1M141 498.5h1M143 498.5h1M106 499.5h1M119 499.5h1M125 499.5h1M128 499.5h2M133 499.5h1M138 499.5h1M141 499.5h1M107 500.5h1M124 500.5h1M130 500.5h1M133 500.5h1M142 500.5h1M147 500.5h1M149 500.5h1M115 501.5h3M120 501.5h1M124 501.5h2M127 501.5h1M130 501.5h2M135 501.5h1M103 502.5h1M112 502.5h1M118 502.5h2M127 502.5h1M129 502.5h1M134 502.5h2M141 502.5h1M113 503.5h1M120 503.5h2M124 503.5h3M128 503.5h1M101 504.5h1M106 504.5h1M114 504.5h1M116 504.5h1M118 504.5h1M120 504.5h1M123 504.5h1M129 504.5h1M132 504.5h1M84 505.5h1M109 505.5h1M112 505.5h1M120 505.5h2M123 505.5h1M127 505.5h1M129 505.5h1M132 505.5h1M138 505.5h1M148 505.5h1M116 506.5h1M119 506.5h1M128 506.5h2M112 507.5h1M114 507.5h1M116 507.5h1M122 507.5h1M132 507.5h2M141 507.5h1M97 508.5h1M112 509.5h1M119 509.5h1M126 509.5h1M135 509.5h1M85 510.5h1M111 510.5h3M120 510.5h1M127 510.5h2M104 511.5h1M107 511.5h1M117 511.5h1M121 511.5h2M126 511.5h1M100 512.5h1M107 512.5h2M112 512.5h1M118 512.5h1M109 513.5h3M118 513.5h1M84 514.5h1M103 514.5h1M116 514.5h1M119 514.5h1M128 514.5h1M134 514.5h1M137 514.5h1M143 514.5h1M105 515.5h2M108 515.5h1M111 515.5h1M118 515.5h1M121 515.5h1M95 516.5h1M112 516.5h1M114 516.5h1M125 516.5h1M135 516.5h1M104 517.5h1M111 517.5h1M113 517.5h1M120 517.5h1M127 517.5h1M108 518.5h1M117 518.5h1M129 518.5h1M89 519.5h1M101 519.5h1M108 519.5h1M114 519.5h1M116 519.5h1M121 519.5h1M124 519.5h1M128 519.5h1M137 519.5h1M102 520.5h1M104 520.5h1M106 520.5h1M108 520.5h1M113 520.5h1M122 520.5h1M170 520.5h2M181 520.5h2M97 521.5h1M119 521.5h1M125 521.5h1M101 522.5h1M105 522.5h1M121 522.5h1M172 522.5h1M61 523.5h1M88 523.5h1M96 523.5h1M101 523.5h1M106 523.5h2M118 523.5h1M87 524.5h1M102 524.5h2M105 524.5h1M135 524.5h1M103 525.5h1M108 525.5h1M110 525.5h1M89 526.5h1M97 526.5h1M101 526.5h1M108 526.5h1M120 526.5h1M134 526.5h1M89 527.5h1M98 527.5h1M105 527.5h1M109 527.5h2M117 527.5h1M120 527.5h1M109 528.5h1M112 528.5h1M120 528.5h1M87 529.5h1M93 529.5h1M105 529.5h1M111 529.5h1M114 529.5h1M118 529.5h1M123 529.5h1M127 529.5h1M90 530.5h1M102 530.5h1M104 530.5h1M109 530.5h1M114 530.5h1M118 530.5h1M77 531.5h1M92 531.5h1M100 531.5h1M102 531.5h1M109 531.5h1M121 531.5h1M89 532.5h1M97 532.5h1M106 532.5h1M108 532.5h1M114 532.5h1M119 532.5h1M137 532.5h1M78 533.5h1M89 533.5h1M92 533.5h1M95 533.5h1M100 533.5h1M102 533.5h1M113 533.5h1M116 533.5h1M127 533.5h1M71 534.5h1M91 534.5h1M98 534.5h2M101 534.5h1M103 534.5h2M109 534.5h1M123 534.5h1M88 535.5h1M94 535.5h1M112 535.5h2M128 535.5h1M102 536.5h1M104 536.5h2M112 536.5h1M114 536.5h1M120 536.5h2M80 537.5h1M83 537.5h1M87 537.5h1M102 537.5h1M109 537.5h1M112 537.5h1M118 537.5h1M128 537.5h1M65 538.5h1M85 538.5h1M102 538.5h1M104 538.5h1M111 538.5h1M115 538.5h1M86 539.5h1M92 539.5h2M100 539.5h2M116 539.5h1M130 539.5h1M136 539.5h1M87 540.5h1M95 540.5h1M99 540.5h1M102 540.5h1M108 540.5h1M111 540.5h1M114 540.5h1M124 540.5h1M134 540.5h1M136 540.5h1M75 541.5h1M79 541.5h2M91 541.5h1M103 541.5h1M107 541.5h1M112 541.5h2M118 541.5h1M121 541.5h1M124 541.5h2M157 541.5h1M73 542.5h1M83 542.5h1M85 542.5h1M90 542.5h1M94 542.5h1M96 542.5h2M99 542.5h1M103 542.5h1M106 542.5h2M109 542.5h1M112 542.5h2M115 542.5h1M107 543.5h1M119 543.5h1M127 543.5h1M158 543.5h1M94 544.5h1M98 544.5h1M103 544.5h1M105 544.5h1M108 544.5h2M112 544.5h1M115 544.5h1M122 544.5h1M127 544.5h1M57 545.5h1M68 545.5h1M81 545.5h1M90 545.5h1M92 545.5h1M100 545.5h1M104 545.5h1M110 545.5h1M115 545.5h1M117 545.5h1M125 545.5h1M132 545.5h1M58 546.5h1M78 546.5h1M81 546.5h1M100 546.5h1M102 546.5h1M104 546.5h1M107 546.5h1M122 546.5h1M126 546.5h3M130 546.5h1M134 546.5h1M86 547.5h1M92 547.5h1M96 547.5h3M104 547.5h2M110 547.5h2M117 547.5h1M126 547.5h1M73 548.5h1M76 548.5h1M88 548.5h2M97 548.5h1M99 548.5h1M103 548.5h1M105 548.5h1M109 548.5h1M116 548.5h2M119 548.5h1M124 548.5h1M126 548.5h1M79 549.5h1M91 549.5h2M95 549.5h2M101 549.5h1M107 549.5h1M115 549.5h1M117 549.5h1M124 549.5h1M81 550.5h1M90 550.5h1M93 550.5h1M95 550.5h1M105 550.5h2M108 550.5h1M111 550.5h2M119 550.5h1M127 550.5h1M63 551.5h1M73 551.5h1M84 551.5h2M87 551.5h1M91 551.5h2M98 551.5h1M100 551.5h1M105 551.5h1M111 551.5h1M114 551.5h1M119 551.5h1M130 551.5h1M79 552.5h2M87 552.5h1M93 552.5h1M97 552.5h1M99 552.5h2M102 552.5h4M107 552.5h1M110 552.5h1M132 552.5h1M71 553.5h1M82 553.5h2M86 553.5h3M97 553.5h1M101 553.5h1M103 553.5h2M106 553.5h3M113 553.5h1M115 553.5h3M120 553.5h1M130 553.5h1M72 554.5h1M84 554.5h2M92 554.5h1M94 554.5h1M98 554.5h1M100 554.5h1M102 554.5h1M107 554.5h1M109 554.5h2M114 554.5h1M116 554.5h1M119 554.5h1M83 555.5h1M86 555.5h1M89 555.5h2M93 555.5h2M99 555.5h1M103 555.5h4M113 555.5h1M115 555.5h1M117 555.5h1M68 556.5h1M70 556.5h1M93 556.5h3M105 556.5h1M107 556.5h1M111 556.5h3M115 556.5h1M118 556.5h1M128 556.5h2M81 557.5h2M89 557.5h1M91 557.5h1M95 557.5h2M98 557.5h1M100 557.5h1M112 557.5h2M129 557.5h1M68 558.5h1M82 558.5h1M85 558.5h1M96 558.5h1M102 558.5h2M105 558.5h1M108 558.5h1M110 558.5h1M112 558.5h1M118 558.5h1M121 558.5h1M73 559.5h1M78 559.5h1M87 559.5h4M98 559.5h1M112 559.5h3M52 560.5h1M66 560.5h1M70 560.5h2M73 560.5h1M84 560.5h1M92 560.5h1M94 560.5h2M98 560.5h1M100 560.5h1M109 560.5h1M117 560.5h1M121 560.5h1M128 560.5h2M153 560.5h1M71 561.5h1M84 561.5h3M88 561.5h1M90 561.5h1M95 561.5h1M100 561.5h2M105 561.5h1M109 561.5h2M116 561.5h1M122 561.5h1M126 561.5h2M65 562.5h1M75 562.5h1M78 562.5h1M84 562.5h2M99 562.5h1M104 562.5h3M108 562.5h1M110 562.5h2M121 562.5h1M123 562.5h1M87 563.5h1M91 563.5h1M94 563.5h1M97 563.5h1M101 563.5h1M103 563.5h2M108 563.5h1M111 563.5h1M119 563.5h1M70 564.5h1M76 564.5h1M80 564.5h1M84 564.5h1M88 564.5h3M94 564.5h3M100 564.5h1M103 564.5h1M106 564.5h2M109 564.5h1M79 565.5h1M87 565.5h4M92 565.5h1M94 565.5h1M96 565.5h1M98 565.5h1M106 565.5h3M111 565.5h2M117 565.5h1M119 565.5h2M123 565.5h1M68 566.5h1M70 566.5h1M77 566.5h1M82 566.5h1M84 566.5h1M88 566.5h4M93 566.5h5M103 566.5h3M107 566.5h2M111 566.5h1M113 566.5h1M125 566.5h1M68 567.5h1M75 567.5h1M82 567.5h1M87 567.5h2M90 567.5h1M92 567.5h3M97 567.5h1M99 567.5h1M102 567.5h2M110 567.5h1M112 567.5h2M133 567.5h1M137 567.5h1M78 568.5h1M80 568.5h1M82 568.5h3M90 568.5h1M94 568.5h1M96 568.5h3M100 568.5h1M107 568.5h1M109 568.5h1M112 568.5h1M114 568.5h1M119 568.5h1M123 568.5h1M43 569.5h1M69 569.5h1M80 569.5h1M84 569.5h1M88 569.5h2M91 569.5h2M94 569.5h1M98 569.5h1M100 569.5h1M102 569.5h4M110 569.5h2M113 569.5h1M126 569.5h1M55 570.5h1M74 570.5h1M76 570.5h1M78 570.5h1M81 570.5h1M85 570.5h1M87 570.5h1M91 570.5h1M95 570.5h1M99 570.5h1M101 570.5h1M103 570.5h1M105 570.5h2M108 570.5h1M117 570.5h1M120 570.5h1M46 571.5h1M65 571.5h1M69 571.5h1M76 571.5h1M84 571.5h1M86 571.5h3M93 571.5h7M101 571.5h2M105 571.5h1M107 571.5h1M110 571.5h1M112 571.5h1M118 571.5h1M127 571.5h1M38 572.5h1M61 572.5h1M71 572.5h1M77 572.5h1M86 572.5h1M92 572.5h1M96 572.5h1M99 572.5h2M105 572.5h2M108 572.5h2M126 572.5h1M64 573.5h1M73 573.5h1M79 573.5h1M83 573.5h1M85 573.5h1M88 573.5h2M97 573.5h1M101 573.5h1M104 573.5h1M106 573.5h2M127 573.5h1M136 573.5h1M51 574.5h1M71 574.5h1M73 574.5h1M77 574.5h1M82 574.5h1M84 574.5h2M88 574.5h2M91 574.5h5M99 574.5h2M102 574.5h1M106 574.5h3M121 574.5h1M65 575.5h1M71 575.5h2M74 575.5h1M78 575.5h1M82 575.5h1M87 575.5h3M91 575.5h3M96 575.5h1M102 575.5h2M111 575.5h1M113 575.5h2M73 576.5h1M76 576.5h2M87 576.5h1M89 576.5h4M94 576.5h1M96 576.5h2M103 576.5h1M107 576.5h2M110 576.5h3M123 576.5h2M130 576.5h1M67 577.5h1M71 577.5h2M79 577.5h1M81 577.5h1M83 577.5h6M93 577.5h2M97 577.5h4M104 577.5h3M108 577.5h1M113 577.5h1M116 577.5h1M65 578.5h1M69 578.5h1M75 578.5h1M77 578.5h1M80 578.5h1M85 578.5h1M88 578.5h3M93 578.5h1M95 578.5h2M99 578.5h5M109 578.5h1M120 578.5h1M59 579.5h1M65 579.5h1M67 579.5h1M78 579.5h2M81 579.5h1M85 579.5h1M87 579.5h2M92 579.5h1M96 579.5h1M99 579.5h1M101 579.5h2M104 579.5h2M107 579.5h1M116 579.5h1M122 579.5h1M52 580.5h1M62 580.5h1M67 580.5h1M75 580.5h1M78 580.5h2M85 580.5h1M87 580.5h1M92 580.5h1M96 580.5h1M98 580.5h2M101 580.5h1M105 580.5h1M108 580.5h1M115 580.5h1M123 580.5h1M68 581.5h1M75 581.5h1M77 581.5h1M87 581.5h5M93 581.5h1M95 581.5h1M99 581.5h2M102 581.5h1M105 581.5h1M107 581.5h2M111 581.5h1M132 581.5h2M78 582.5h3M89 582.5h3M93 582.5h1M95 582.5h3M100 582.5h1M102 582.5h1M104 582.5h2M108 582.5h1M113 582.5h2M118 582.5h1M121 582.5h1M124 582.5h1M69 583.5h1M73 583.5h2M76 583.5h1M85 583.5h2M92 583.5h1M94 583.5h1M96 583.5h1M99 583.5h1M101 583.5h1M104 583.5h1M107 583.5h1M121 583.5h1M70 584.5h1M78 584.5h1M83 584.5h2M86 584.5h5M95 584.5h1M98 584.5h3M104 584.5h1M108 584.5h2M112 584.5h2M120 584.5h1M123 584.5h1M70 585.5h1M72 585.5h1M76 585.5h1M80 585.5h1M83 585.5h1M85 585.5h2M89 585.5h1M96 585.5h1M98 585.5h1M102 585.5h1M105 585.5h1M107 585.5h1M114 585.5h1M61 586.5h1M67 586.5h1M69 586.5h1M71 586.5h1M82 586.5h1M86 586.5h1M88 586.5h2M92 586.5h1M94 586.5h1M96 586.5h1M98 586.5h2M101 586.5h1M105 586.5h1M107 586.5h1M112 586.5h4M119 586.5h1M121 586.5h1M135 586.5h1M71 587.5h1M79 587.5h2M86 587.5h1M88 587.5h1M94 587.5h1M96 587.5h4M101 587.5h2M104 587.5h3M115 587.5h2M61 588.5h1M63 588.5h1M65 588.5h2M69 588.5h1M75 588.5h2M81 588.5h1M93 588.5h1M96 588.5h2M99 588.5h5M107 588.5h1M109 588.5h1M111 588.5h2M117 588.5h1M131 588.5h1M60 589.5h1M62 589.5h1M64 589.5h1M76 589.5h2M80 589.5h1M82 589.5h1M88 589.5h1M94 589.5h1M96 589.5h1M98 589.5h2M107 589.5h3M48 590.5h1M62 590.5h1M66 590.5h1M70 590.5h1M75 590.5h1M78 590.5h3M85 590.5h1M89 590.5h1M96 590.5h1M98 590.5h1M104 590.5h1M109 590.5h1M63 591.5h1M70 591.5h1M79 591.5h1M81 591.5h1M86 591.5h1M89 591.5h1M91 591.5h1M93 591.5h1M96 591.5h2M100 591.5h1M102 591.5h2M60 592.5h1M64 592.5h1M67 592.5h1M72 592.5h1M75 592.5h2M82 592.5h1M87 592.5h1M89 592.5h2M98 592.5h2M104 592.5h1M108 592.5h1M112 592.5h1M64 593.5h1M66 593.5h1M75 593.5h4M83 593.5h1M85 593.5h2M89 593.5h1M91 593.5h2M95 593.5h1M97 593.5h1M105 593.5h1M107 593.5h4M116 593.5h1M43 594.5h1M71 594.5h1M75 594.5h1M82 594.5h3M86 594.5h1M90 594.5h5M96 594.5h1M101 594.5h1M113 594.5h1M121 594.5h1M131 594.5h1M67 595.5h1M79 595.5h2M82 595.5h1M86 595.5h1M90 595.5h1M94 595.5h2M97 595.5h2M100 595.5h1M104 595.5h1M110 595.5h2M115 595.5h1M64 596.5h1M66 596.5h1M71 596.5h1M77 596.5h1M80 596.5h1M82 596.5h2M85 596.5h1M87 596.5h1M89 596.5h1M94 596.5h1M97 596.5h2M110 596.5h2M118 596.5h1M122 596.5h1M128 596.5h1M71 597.5h1M73 597.5h1M75 597.5h1M80 597.5h1M84 597.5h3M90 597.5h1M92 597.5h3M97 597.5h1M102 597.5h2M108 597.5h1M59 598.5h1M68 598.5h2M75 598.5h1M79 598.5h1M82 598.5h3M91 598.5h2M105 598.5h1M110 598.5h1M120 598.5h1M68 599.5h1M72 599.5h1M74 599.5h3M82 599.5h1M85 599.5h1M88 599.5h2M97 599.5h1M100 599.5h1M105 599.5h1M114 599.5h1M123 599.5h1M64 600.5h2M76 600.5h2M79 600.5h1M88 600.5h1M97 600.5h2M101 600.5h2M113 600.5h1M62 601.5h1M74 601.5h1M77 601.5h2M81 601.5h1M86 601.5h1M98 601.5h1M100 601.5h2M103 601.5h1M61 602.5h1M67 602.5h1M79 602.5h1M83 602.5h1M85 602.5h1M99 602.5h1M110 602.5h1M127 602.5h1M66 603.5h1M69 603.5h2M77 603.5h2M80 603.5h1M82 603.5h1M85 603.5h1M87 603.5h1M97 603.5h1M99 603.5h2M109 603.5h1M124 603.5h1M126 603.5h1M69 604.5h1M71 604.5h1M76 604.5h1M79 604.5h1M81 604.5h1M86 604.5h2M89 604.5h1M91 604.5h1M107 604.5h1M111 604.5h1M119 604.5h1M73 605.5h2M76 605.5h1M79 605.5h1M81 605.5h1M83 605.5h4M96 605.5h1M99 605.5h1M103 605.5h2M112 605.5h1M114 605.5h1M51 606.5h1M71 606.5h1M73 606.5h1M76 606.5h1M86 606.5h2M89 606.5h2M93 606.5h1M95 606.5h2M103 606.5h1M107 606.5h2M110 606.5h1M112 606.5h1M117 606.5h1M155 606.5h1M64 607.5h1M84 607.5h2M90 607.5h1M92 607.5h1M97 607.5h1M100 607.5h1M127 607.5h1M70 608.5h1M75 608.5h1M80 608.5h1M86 608.5h1M91 608.5h1M108 608.5h1M129 608.5h1M64 609.5h1M77 609.5h1M79 609.5h1M82 609.5h1M92 609.5h2M96 609.5h1M99 609.5h1M65 610.5h1M74 610.5h1M86 610.5h1M96 610.5h2M100 610.5h1M58 611.5h1M71 611.5h1M99 611.5h1M103 611.5h2M40 612.5h1M53 612.5h1M74 612.5h1M100 612.5h1M119 612.5h1M77 613.5h1M95 613.5h2M101 613.5h1M103 613.5h1M128 613.5h1M60 614.5h1M71 614.5h3M85 614.5h1M88 615.5h1M90 615.5h1M96 615.5h1M106 615.5h1M60 616.5h1M74 616.5h1M109 616.5h1M75 617.5h2M84 617.5h1M93 617.5h1M97 617.5h1M103 617.5h1M108 617.5h1M124 617.5h1M76 618.5h1M78 618.5h1M87 618.5h1M99 618.5h1M117 618.5h1M61 619.5h1M72 619.5h1M78 619.5h1M85 619.5h1M87 619.5h1M89 619.5h1M105 619.5h1M69 620.5h1M81 620.5h1M83 620.5h2M90 620.5h1M29 621.5h1M77 621.5h1M83 621.5h1M86 621.5h1M89 621.5h1M93 621.5h1M102 621.5h1M109 621.5h1M70 622.5h1M84 622.5h1M92 622.5h1M103 622.5h1M59 623.5h1M68 623.5h1M125 623.5h1M58 624.5h1M77 624.5h1M79 624.5h1M83 624.5h1M99 624.5h1M79 625.5h1M65 626.5h1M97 626.5h1M99 626.5h1M109 626.5h1M78 627.5h1M94 627.5h1M100 627.5h1M126 627.5h1M81 628.5h1M88 628.5h1M91 628.5h2M99 628.5h1M83 629.5h1M94 629.5h1M33 630.5h1M67 630.5h1M72 630.5h1M88 630.5h2M68 631.5h1M91 632.5h1M95 632.5h1M63 633.5h1M76 633.5h1M57 634.5h1M71 634.5h1M81 635.5h1M81 638.5h1M65 639.5h1M64 641.5h1M70 642.5h1M81 642.5h2M89 642.5h1M67 643.5h1M85 644.5h1M81 646.5h1M89 647.5h1M80 648.5h1M112 650.5h1M44 652.5h1M67 653.5h1M87 655.5h1M86 659.5h1M73 660.5h1M51 663.5h1M87 663.5h1M61 664.5h1M65 666.5h1M74 666.5h4M90 666.5h2M94 666.5h1M97 666.5h1M100 666.5h1M102 666.5h2M106 666.5h1M112 666.5h1M120 666.5h1M122 666.5h1M163 666.5h1" stroke="#141414" stroke-opacity="0.68" stroke-width="1" fill="none" shape-rendering="crispEdges"/>
<path d="M144 469.5h2M147 469.5h1M133 471.5h1M137 471.5h1M151 471.5h1M135 472.5h1M148 472.5h1M139 473.5h2M142 473.5h1M128 474.5h1M138 474.5h2M141 474.5h1M142 475.5h1M144 475.5h1M152 475.5h1M134 476.5h1M144 476.5h1M146 476.5h1M118 477.5h1M124 477.5h1M138 477.5h2M150 477.5h1M138 478.5h1M140 478.5h2M142 479.5h1M148 479.5h1M133 480.5h1M139 480.5h2M150 480.5h1M133 481.5h1M146 481.5h1M148 481.5h1M128 482.5h1M135 482.5h1M141 482.5h2M125 483.5h3M129 483.5h1M133 483.5h1M138 483.5h1M148 483.5h1M128 484.5h1M145 484.5h1M98 485.5h1M118 485.5h1M123 485.5h1M134 485.5h1M136 485.5h1M140 485.5h1M108 486.5h1M126 486.5h1M128 486.5h1M133 486.5h3M137 486.5h1M139 486.5h2M95 487.5h1M105 487.5h1M130 487.5h2M133 487.5h1M136 487.5h1M144 487.5h1M123 488.5h1M128 488.5h1M130 488.5h1M133 488.5h1M136 488.5h1M139 488.5h1M95 489.5h1M106 489.5h1M120 489.5h1M128 489.5h1M130 489.5h1M132 489.5h1M135 489.5h4M142 489.5h1M146 489.5h1M149 489.5h1M86 490.5h1M98 490.5h1M115 490.5h1M118 490.5h1M126 490.5h2M130 490.5h2M137 490.5h1M142 490.5h1M103 491.5h1M113 491.5h1M123 491.5h1M126 491.5h3M130 491.5h1M138 491.5h2M126 492.5h2M131 492.5h3M135 492.5h1M69 493.5h1M109 493.5h1M115 493.5h1M124 493.5h1M127 493.5h1M137 493.5h1M139 493.5h1M101 494.5h1M121 494.5h3M127 494.5h1M130 494.5h1M133 494.5h2M141 494.5h2M124 495.5h1M126 495.5h1M134 495.5h1M137 495.5h1M126 496.5h1M133 496.5h1M108 497.5h1M113 497.5h1M115 497.5h1M118 497.5h1M120 497.5h1M126 497.5h1M129 497.5h1M134 497.5h1M140 497.5h1M114 498.5h1M118 498.5h1M125 498.5h1M132 498.5h2M142 498.5h1M115 499.5h1M125 499.5h3M129 499.5h2M136 499.5h2M140 499.5h1M143 499.5h1M113 500.5h1M116 500.5h1M125 500.5h1M128 500.5h2M136 500.5h2M102 501.5h1M104 501.5h1M117 501.5h3M122 501.5h1M132 501.5h1M139 501.5h1M147 501.5h1M106 502.5h1M115 502.5h1M119 502.5h1M123 502.5h2M128 502.5h1M130 502.5h1M133 502.5h1M141 502.5h1M109 503.5h1M117 503.5h2M123 503.5h2M127 503.5h1M129 503.5h1M140 503.5h1M118 504.5h1M122 504.5h1M124 504.5h1M127 504.5h1M135 504.5h1M137 504.5h1M147 504.5h1M92 505.5h1M113 505.5h1M118 505.5h1M120 505.5h2M125 505.5h2M128 505.5h1M131 505.5h2M136 505.5h1M142 505.5h1M112 506.5h1M118 506.5h2M121 506.5h1M123 506.5h1M125 506.5h1M129 506.5h1M117 507.5h1M121 507.5h1M128 507.5h1M131 507.5h1M134 507.5h1M92 508.5h1M100 508.5h1M107 508.5h1M110 508.5h2M114 508.5h1M116 508.5h3M123 508.5h1M128 508.5h1M131 508.5h1M98 509.5h2M101 509.5h1M103 509.5h1M114 509.5h1M122 509.5h2M125 509.5h1M129 509.5h1M138 509.5h1M150 509.5h1M112 510.5h1M120 510.5h1M126 510.5h1M136 510.5h2M107 511.5h1M113 511.5h1M116 511.5h1M118 511.5h1M121 511.5h1M123 511.5h1M130 511.5h1M132 511.5h1M88 512.5h1M109 512.5h1M116 512.5h1M124 512.5h2M108 513.5h1M110 513.5h1M112 513.5h2M118 513.5h1M125 513.5h1M134 513.5h1M140 513.5h1M86 514.5h1M97 514.5h1M114 514.5h1M116 514.5h1M118 514.5h1M108 515.5h3M128 515.5h1M97 516.5h1M102 516.5h1M110 516.5h1M114 516.5h1M117 516.5h1M121 516.5h1M129 516.5h1M91 517.5h1M94 517.5h1M106 517.5h1M112 517.5h2M115 517.5h1M127 517.5h1M129 517.5h1M101 518.5h1M105 518.5h1M112 518.5h1M117 518.5h1M126 518.5h1M129 518.5h1M133 518.5h2M93 519.5h2M99 519.5h1M110 519.5h1M113 519.5h2M118 519.5h1M122 519.5h1M89 520.5h1M99 520.5h1M104 520.5h1M113 520.5h1M119 520.5h1M120 521.5h1M96 522.5h1M112 522.5h1M118 522.5h1M120 522.5h1M126 522.5h1M96 523.5h1M98 523.5h1M103 523.5h1M105 523.5h1M112 523.5h1M133 523.5h1M76 524.5h1M108 524.5h1M112 524.5h1M125 524.5h1M144 524.5h1M92 525.5h1M96 525.5h2M107 525.5h1M117 525.5h1M121 525.5h1M123 525.5h1M102 526.5h1M107 526.5h1M113 526.5h1M116 526.5h1M122 526.5h1M125 526.5h1M74 527.5h1M77 527.5h1M79 527.5h1M91 527.5h1M95 527.5h1M111 527.5h1M114 527.5h1M117 527.5h3M126 527.5h1M89 528.5h1M95 528.5h1M85 529.5h1M90 529.5h2M112 529.5h1M115 529.5h1M117 529.5h1M119 529.5h1M122 529.5h1M70 530.5h1M85 530.5h1M101 530.5h1M105 530.5h1M107 530.5h2M112 530.5h2M117 530.5h2M98 531.5h1M101 531.5h1M105 531.5h2M113 531.5h1M139 531.5h1M74 532.5h1M86 532.5h1M119 532.5h1M122 532.5h1M126 532.5h1M84 533.5h3M100 533.5h1M106 533.5h1M111 533.5h1M114 533.5h1M121 533.5h1M123 533.5h1M84 534.5h1M87 534.5h1M93 534.5h1M107 534.5h2M110 534.5h1M73 535.5h1M101 535.5h1M106 535.5h1M109 535.5h1M111 535.5h2M79 536.5h1M82 536.5h1M87 536.5h1M89 536.5h2M92 536.5h1M97 536.5h1M104 536.5h1M118 536.5h1M122 536.5h1M129 536.5h1M67 537.5h1M98 537.5h1M106 537.5h1M113 537.5h1M117 537.5h1M122 537.5h2M85 538.5h1M97 538.5h1M100 538.5h3M112 538.5h1M114 538.5h1M118 538.5h1M123 538.5h1M45 539.5h1M92 539.5h1M96 539.5h1M99 539.5h1M102 539.5h1M104 539.5h1M106 539.5h2M109 539.5h2M116 539.5h1M94 540.5h1M96 540.5h1M102 540.5h1M105 540.5h1M110 540.5h1M114 540.5h1M127 540.5h1M141 540.5h1M67 541.5h1M87 541.5h1M96 541.5h1M98 541.5h1M100 541.5h1M103 541.5h1M112 541.5h1M114 541.5h2M119 541.5h1M125 541.5h1M94 542.5h2M103 542.5h1M108 542.5h1M112 542.5h1M72 543.5h1M84 543.5h1M88 543.5h1M93 543.5h1M97 543.5h1M105 543.5h1M112 543.5h2M116 543.5h2M120 543.5h2M71 544.5h1M86 544.5h2M95 544.5h1M101 544.5h1M104 544.5h3M126 544.5h1M90 545.5h1M97 545.5h1M103 545.5h1M111 545.5h1M124 545.5h1M126 545.5h1M147 545.5h1M80 546.5h1M84 546.5h1M89 546.5h2M98 546.5h3M107 546.5h1M29 547.5h1M76 547.5h1M80 547.5h1M94 547.5h1M97 547.5h1M102 547.5h2M108 547.5h1M121 547.5h1M74 548.5h1M79 548.5h2M84 548.5h1M97 548.5h1M100 548.5h1M103 548.5h1M110 548.5h3M114 548.5h1M116 548.5h1M131 548.5h1M135 548.5h1M61 549.5h1M67 549.5h1M69 549.5h1M89 549.5h1M101 549.5h1M103 549.5h1M106 549.5h2M109 549.5h1M111 549.5h2M115 549.5h1M81 550.5h1M83 550.5h1M101 550.5h1M105 550.5h1M107 550.5h1M110 550.5h1M115 550.5h1M117 550.5h1M120 550.5h1M81 551.5h2M86 551.5h1M93 551.5h1M95 551.5h3M100 551.5h2M104 551.5h2M107 551.5h2M111 551.5h1M113 551.5h1M119 551.5h1M131 551.5h1M84 552.5h1M91 552.5h2M97 552.5h3M102 552.5h2M105 552.5h2M108 552.5h1M110 552.5h1M118 552.5h3M125 552.5h1M128 552.5h1M136 552.5h1M72 553.5h1M79 553.5h1M81 553.5h2M85 553.5h1M88 553.5h2M97 553.5h1M99 553.5h3M103 553.5h1M105 553.5h2M108 553.5h1M114 553.5h1M121 553.5h1M123 553.5h1M62 554.5h1M85 554.5h1M99 554.5h1M106 554.5h1M116 554.5h1M125 554.5h1M136 554.5h1M67 555.5h1M86 555.5h1M90 555.5h1M92 555.5h2M101 555.5h1M103 555.5h1M117 555.5h2M124 555.5h1M54 556.5h1M66 556.5h1M81 556.5h1M91 556.5h1M94 556.5h3M98 556.5h1M101 556.5h1M103 556.5h1M105 556.5h2M113 556.5h1M115 556.5h1M75 557.5h1M88 557.5h1M92 557.5h1M98 557.5h1M104 557.5h1M106 557.5h1M109 557.5h1M116 557.5h1M125 557.5h1M72 558.5h1M75 558.5h2M84 558.5h1M87 558.5h5M96 558.5h1M107 558.5h1M111 558.5h2M117 558.5h1M119 558.5h1M122 558.5h1M74 559.5h1M79 559.5h2M89 559.5h1M94 559.5h1M96 559.5h1M101 559.5h3M107 559.5h1M109 559.5h1M119 559.5h1M71 560.5h1M73 560.5h1M82 560.5h2M90 560.5h1M95 560.5h1M100 560.5h1M108 560.5h1M110 560.5h1M112 560.5h1M117 560.5h1M121 560.5h1M124 560.5h1M68 561.5h1M74 561.5h1M76 561.5h3M81 561.5h1M93 561.5h1M95 561.5h3M99 561.5h1M104 561.5h1M106 561.5h1M110 561.5h3M122 561.5h1M127 561.5h1M129 561.5h1M79 562.5h1M82 562.5h1M85 562.5h1M89 562.5h1M91 562.5h2M94 562.5h1M96 562.5h1M104 562.5h2M107 562.5h2M110 562.5h1M70 563.5h2M74 563.5h1M96 563.5h2M100 563.5h1M107 563.5h1M111 563.5h1M117 563.5h1M120 563.5h1M123 563.5h1M74 564.5h1M76 564.5h1M79 564.5h1M82 564.5h1M85 564.5h1M87 564.5h2M90 564.5h3M95 564.5h3M107 564.5h1M109 564.5h1M111 564.5h1M113 564.5h1M123 564.5h1M83 565.5h1M85 565.5h1M91 565.5h2M95 565.5h2M104 565.5h2M107 565.5h1M110 565.5h1M114 565.5h1M131 565.5h1M75 566.5h1M80 566.5h1M82 566.5h1M85 566.5h1M90 566.5h1M92 566.5h1M94 566.5h1M96 566.5h1M98 566.5h1M100 566.5h1M102 566.5h1M116 566.5h1M130 566.5h1M135 566.5h1M68 567.5h1M82 567.5h3M87 567.5h1M91 567.5h1M96 567.5h1M100 567.5h1M104 567.5h1M107 567.5h1M109 567.5h1M112 567.5h2M116 567.5h1M120 567.5h1M124 567.5h1M76 568.5h1M78 568.5h1M92 568.5h2M95 568.5h1M97 568.5h1M102 568.5h4M108 568.5h2M111 568.5h1M113 568.5h1M116 568.5h2M119 568.5h1M121 568.5h1M137 568.5h1M65 569.5h1M78 569.5h1M87 569.5h1M89 569.5h5M100 569.5h1M104 569.5h1M106 569.5h1M108 569.5h2M122 569.5h2M126 569.5h1M140 569.5h1M57 570.5h1M60 570.5h1M62 570.5h1M66 570.5h2M70 570.5h1M74 570.5h1M87 570.5h3M91 570.5h2M94 570.5h1M98 570.5h5M105 570.5h3M109 570.5h1M113 570.5h3M76 571.5h2M79 571.5h1M83 571.5h1M85 571.5h2M88 571.5h4M93 571.5h1M96 571.5h1M98 571.5h2M103 571.5h1M106 571.5h2M109 571.5h1M115 571.5h1M120 571.5h1M136 571.5h1M67 572.5h1M75 572.5h1M78 572.5h1M80 572.5h2M83 572.5h2M87 572.5h1M89 572.5h2M92 572.5h3M104 572.5h1M106 572.5h1M113 572.5h1M116 572.5h1M134 572.5h1M40 573.5h1M80 573.5h1M84 573.5h1M86 573.5h3M90 573.5h1M92 573.5h4M98 573.5h1M100 573.5h1M107 573.5h1M112 573.5h1M115 573.5h1M117 573.5h1M126 573.5h1M60 574.5h1M65 574.5h1M84 574.5h1M89 574.5h1M91 574.5h1M93 574.5h1M95 574.5h1M98 574.5h1M100 574.5h1M103 574.5h2M109 574.5h1M111 574.5h1M113 574.5h1M124 574.5h1M79 575.5h1M81 575.5h1M85 575.5h3M90 575.5h1M95 575.5h3M103 575.5h3M109 575.5h1M125 575.5h2M143 575.5h1M67 576.5h1M75 576.5h1M81 576.5h1M85 576.5h4M90 576.5h1M93 576.5h3M97 576.5h1M99 576.5h3M103 576.5h1M105 576.5h1M107 576.5h1M117 576.5h1M127 576.5h1M137 576.5h1M36 577.5h1M72 577.5h1M74 577.5h1M76 577.5h1M83 577.5h1M86 577.5h3M103 577.5h2M107 577.5h2M110 577.5h1M122 577.5h1M129 577.5h1M138 577.5h1M51 578.5h1M70 578.5h1M75 578.5h1M80 578.5h3M88 578.5h1M91 578.5h1M93 578.5h12M106 578.5h1M110 578.5h1M113 578.5h3M118 578.5h1M121 578.5h1M130 578.5h1M50 579.5h1M58 579.5h1M66 579.5h1M76 579.5h2M80 579.5h1M82 579.5h1M84 579.5h1M86 579.5h1M88 579.5h1M90 579.5h1M92 579.5h1M95 579.5h2M98 579.5h4M104 579.5h2M107 579.5h1M113 579.5h1M115 579.5h1M119 579.5h1M121 579.5h2M130 579.5h1M48 580.5h1M63 580.5h1M76 580.5h1M78 580.5h1M83 580.5h2M88 580.5h1M91 580.5h1M94 580.5h1M96 580.5h2M100 580.5h1M102 580.5h1M105 580.5h1M113 580.5h1M121 580.5h1M68 581.5h1M71 581.5h2M79 581.5h2M86 581.5h3M90 581.5h1M92 581.5h2M96 581.5h1M101 581.5h2M107 581.5h3M113 581.5h1M120 581.5h1M123 581.5h1M76 582.5h1M88 582.5h1M90 582.5h1M93 582.5h2M96 582.5h3M100 582.5h2M103 582.5h1M106 582.5h1M108 582.5h1M113 582.5h1M124 582.5h1M31 583.5h1M66 583.5h1M77 583.5h1M80 583.5h1M84 583.5h1M88 583.5h1M90 583.5h1M95 583.5h1M98 583.5h2M102 583.5h1M104 583.5h1M108 583.5h1M111 583.5h1M57 584.5h1M60 584.5h1M67 584.5h1M69 584.5h2M74 584.5h1M79 584.5h2M82 584.5h1M85 584.5h1M87 584.5h2M92 584.5h2M96 584.5h5M104 584.5h1M111 584.5h1M74 585.5h1M77 585.5h1M81 585.5h2M87 585.5h2M95 585.5h1M98 585.5h3M110 585.5h1M112 585.5h1M114 585.5h1M72 586.5h1M74 586.5h1M82 586.5h1M85 586.5h7M94 586.5h1M96 586.5h3M101 586.5h1M105 586.5h1M111 586.5h1M114 586.5h1M57 587.5h1M67 587.5h1M73 587.5h1M75 587.5h1M79 587.5h1M81 587.5h1M83 587.5h1M87 587.5h4M92 587.5h3M98 587.5h2M101 587.5h1M110 587.5h2M113 587.5h2M125 587.5h1M30 588.5h1M55 588.5h1M60 588.5h2M76 588.5h2M79 588.5h2M83 588.5h1M85 588.5h1M89 588.5h1M91 588.5h1M94 588.5h1M97 588.5h1M105 588.5h1M109 588.5h1M133 588.5h1M62 589.5h1M70 589.5h1M74 589.5h3M78 589.5h1M84 589.5h2M87 589.5h1M95 589.5h1M100 589.5h2M103 589.5h2M106 589.5h1M58 590.5h1M77 590.5h2M81 590.5h1M83 590.5h4M90 590.5h3M94 590.5h1M96 590.5h1M100 590.5h1M102 590.5h1M106 590.5h1M108 590.5h1M111 590.5h1M116 590.5h1M47 591.5h1M63 591.5h1M73 591.5h1M78 591.5h2M81 591.5h2M87 591.5h1M90 591.5h1M94 591.5h1M99 591.5h2M102 591.5h1M106 591.5h4M111 591.5h2M116 591.5h2M137 591.5h1M68 592.5h1M70 592.5h1M75 592.5h2M80 592.5h1M83 592.5h3M91 592.5h1M94 592.5h1M97 592.5h1M99 592.5h1M101 592.5h1M107 592.5h1M110 592.5h1M125 592.5h2M130 592.5h1M64 593.5h2M72 593.5h2M77 593.5h1M85 593.5h1M87 593.5h1M89 593.5h1M92 593.5h2M103 593.5h1M108 593.5h2M119 593.5h2M68 594.5h1M77 594.5h1M79 594.5h1M83 594.5h2M86 594.5h1M98 594.5h3M102 594.5h1M104 594.5h1M111 594.5h1M122 594.5h1M55 595.5h1M77 595.5h1M80 595.5h1M83 595.5h1M86 595.5h2M93 595.5h1M95 595.5h1M97 595.5h1M101 595.5h2M111 595.5h1M124 595.5h1M75 596.5h1M80 596.5h1M83 596.5h3M89 596.5h3M98 596.5h1M100 596.5h2M110 596.5h1M119 596.5h1M128 596.5h1M63 597.5h1M66 597.5h1M74 597.5h2M82 597.5h1M86 597.5h2M90 597.5h1M95 597.5h1M97 597.5h2M105 597.5h1M108 597.5h1M112 597.5h1M60 598.5h1M64 598.5h1M85 598.5h2M90 598.5h1M95 598.5h1M99 598.5h1M101 598.5h1M103 598.5h2M108 598.5h1M147 598.5h1M60 599.5h1M67 599.5h1M73 599.5h3M81 599.5h2M86 599.5h2M91 599.5h2M96 599.5h2M99 599.5h1M101 599.5h1M65 600.5h1M78 600.5h2M85 600.5h2M89 600.5h1M98 600.5h1M108 600.5h2M111 600.5h1M128 600.5h1M56 601.5h1M75 601.5h1M77 601.5h1M80 601.5h1M85 601.5h1M94 601.5h1M97 601.5h1M99 601.5h1M101 601.5h1M107 601.5h1M111 601.5h1M115 601.5h1M61 602.5h1M66 602.5h1M69 602.5h1M74 602.5h1M76 602.5h1M80 602.5h1M82 602.5h1M84 602.5h1M97 602.5h1M99 602.5h1M103 602.5h1M110 602.5h1M112 602.5h1M78 603.5h1M81 603.5h2M87 603.5h1M89 603.5h1M91 603.5h1M96 603.5h1M101 603.5h1M105 603.5h1M116 603.5h1M124 603.5h1M56 604.5h1M76 604.5h1M84 604.5h1M90 604.5h3M95 604.5h1M97 604.5h1M100 604.5h2M103 604.5h1M108 604.5h1M70 605.5h1M83 605.5h1M91 605.5h1M98 605.5h2M112 605.5h1M115 605.5h1M128 605.5h1M63 606.5h1M75 606.5h1M84 606.5h1M87 606.5h2M97 606.5h1M100 606.5h1M107 606.5h1M56 607.5h1M63 607.5h1M65 607.5h1M72 607.5h1M74 607.5h1M76 607.5h1M81 607.5h1M84 607.5h2M88 607.5h2M92 607.5h2M95 607.5h1M97 607.5h1M100 607.5h1M119 607.5h1M122 607.5h1M47 608.5h1M69 608.5h1M74 608.5h1M85 608.5h1M87 608.5h1M89 608.5h3M93 608.5h1M95 608.5h1M102 608.5h1M105 608.5h1M123 608.5h1M52 609.5h1M65 609.5h1M75 609.5h1M81 609.5h1M83 609.5h1M91 609.5h1M105 609.5h1M108 609.5h1M86 610.5h2M94 610.5h1M97 610.5h1M99 610.5h3M106 610.5h1M113 610.5h1M63 611.5h1M74 611.5h3M79 611.5h1M83 611.5h1M88 611.5h1M106 611.5h1M88 612.5h1M99 612.5h1M105 612.5h1M49 613.5h1M75 613.5h1M82 613.5h1M90 613.5h3M94 613.5h1M105 613.5h1M107 613.5h1M56 614.5h1M68 614.5h2M80 614.5h1M91 614.5h1M94 614.5h1M98 615.5h1M104 615.5h1M107 615.5h1M71 616.5h1M75 616.5h1M87 616.5h1M94 616.5h1M111 616.5h1M62 617.5h1M81 617.5h1M85 617.5h2M91 617.5h1M105 617.5h1M125 617.5h1M40 618.5h1M59 618.5h1M76 618.5h1M94 618.5h1M96 618.5h1M98 618.5h1M68 619.5h1M86 619.5h3M90 619.5h1M95 619.5h1M101 619.5h1M104 619.5h1M116 619.5h1M70 620.5h1M76 620.5h1M78 620.5h1M88 620.5h1M95 620.5h1M62 621.5h1M69 621.5h1M80 621.5h1M88 621.5h1M100 622.5h1M103 622.5h1M78 623.5h1M80 623.5h1M85 623.5h1M62 624.5h1M71 624.5h1M75 624.5h1M79 624.5h1M96 624.5h1M105 624.5h1M89 625.5h1M71 626.5h2M97 626.5h1M100 626.5h1M66 627.5h1M71 627.5h1M92 627.5h1M102 627.5h1M85 628.5h1M99 628.5h1M103 628.5h1M70 629.5h1M79 629.5h1M89 629.5h1M96 629.5h1M66 630.5h1M75 630.5h1M84 630.5h4M96 630.5h2M136 630.5h1M92 631.5h1M74 632.5h1M86 632.5h1M88 635.5h1M95 635.5h1M104 635.5h1M69 636.5h1M76 637.5h1M83 637.5h1M64 638.5h1M97 638.5h1M89 641.5h1M63 642.5h1M78 642.5h1M84 642.5h1M94 642.5h1M71 644.5h1M96 646.5h1M117 647.5h1M96 652.5h1M49 657.5h1M103 661.5h1M109 662.5h1M74 663.5h1M111 663.5h1M41 666.5h1M50 666.5h1M53 666.5h1M65 666.5h1M68 666.5h1M70 666.5h3M74 666.5h1M76 666.5h1M78 666.5h2M83 666.5h1M85 666.5h1M87 666.5h1M91 666.5h2M94 666.5h2M97 666.5h1M100 666.5h4M105 666.5h1M109 666.5h1M113 666.5h2M124 666.5h1M129 666.5h1M137 666.5h1" stroke="#141414" stroke-opacity="0.68" stroke-width="1" fill="none" shape-rendering="crispEdges"/>
<path d="M148 469.5h2M137 471.5h1M139 471.5h1M132 472.5h1M137 472.5h1M148 472.5h1M106 473.5h1M139 473.5h1M149 473.5h1M151 473.5h1M137 474.5h1M139 474.5h1M146 474.5h1M137 475.5h1M140 475.5h2M145 475.5h1M151 475.5h1M118 476.5h1M135 476.5h2M140 476.5h1M146 476.5h1M148 476.5h1M128 477.5h1M137 477.5h2M142 477.5h2M146 477.5h1M110 478.5h1M139 478.5h1M151 478.5h1M128 479.5h2M111 480.5h1M123 480.5h1M133 480.5h1M136 480.5h1M138 480.5h2M127 481.5h1M147 481.5h1M150 481.5h1M136 482.5h1M139 482.5h1M148 482.5h1M126 483.5h1M131 483.5h1M135 483.5h2M144 483.5h1M122 484.5h1M130 484.5h1M133 484.5h1M138 484.5h2M146 484.5h1M151 484.5h1M127 485.5h3M139 485.5h1M142 485.5h1M122 486.5h1M127 486.5h3M132 486.5h1M134 486.5h2M137 486.5h1M140 486.5h1M113 487.5h1M119 487.5h1M124 487.5h3M130 487.5h1M136 487.5h1M81 488.5h1M104 488.5h1M127 488.5h1M129 488.5h1M132 488.5h1M134 488.5h3M148 488.5h1M106 489.5h1M125 489.5h1M128 489.5h1M130 489.5h1M119 490.5h1M127 490.5h2M134 490.5h2M137 490.5h1M148 490.5h1M122 491.5h2M127 491.5h1M130 491.5h1M137 491.5h1M139 491.5h1M107 492.5h1M115 492.5h1M120 492.5h1M123 492.5h2M127 492.5h2M130 492.5h2M134 492.5h1M136 492.5h1M138 492.5h1M140 492.5h1M143 492.5h1M111 493.5h1M123 493.5h1M125 493.5h1M113 494.5h1M133 494.5h1M135 494.5h1M137 494.5h1M140 494.5h1M110 495.5h1M118 495.5h1M122 495.5h1M124 495.5h4M131 495.5h1M136 495.5h1M145 495.5h1M105 496.5h1M118 496.5h1M120 496.5h1M128 496.5h2M132 496.5h2M108 497.5h1M113 497.5h1M120 497.5h2M125 497.5h2M130 497.5h1M136 497.5h1M142 497.5h1M116 498.5h1M121 498.5h1M129 498.5h1M131 498.5h1M142 498.5h1M144 498.5h1M112 499.5h1M123 499.5h1M129 499.5h1M131 499.5h1M134 499.5h1M136 499.5h1M143 499.5h1M106 500.5h1M110 500.5h2M116 500.5h1M120 500.5h3M134 500.5h1M139 500.5h1M107 501.5h1M117 501.5h1M120 501.5h2M125 501.5h1M128 501.5h1M115 502.5h1M118 502.5h1M126 502.5h1M133 502.5h1M99 503.5h1M120 503.5h1M123 503.5h2M127 503.5h1M131 503.5h1M106 504.5h1M108 504.5h1M130 504.5h1M137 504.5h1M139 504.5h1M109 505.5h1M116 505.5h1M121 505.5h1M126 505.5h1M130 505.5h2M107 506.5h2M115 506.5h1M118 506.5h1M121 506.5h2M129 506.5h1M135 506.5h1M141 506.5h1M112 507.5h2M116 507.5h1M122 507.5h2M126 507.5h1M110 508.5h1M115 508.5h1M118 508.5h1M120 508.5h2M151 508.5h1M122 509.5h3M134 509.5h1M103 510.5h1M108 510.5h1M120 510.5h1M122 510.5h1M124 510.5h3M128 510.5h1M91 511.5h1M100 511.5h1M106 511.5h2M109 511.5h1M122 511.5h1M125 511.5h2M130 511.5h1M105 512.5h1M115 512.5h1M118 512.5h2M135 512.5h1M102 513.5h1M117 513.5h1M128 513.5h1M130 513.5h1M100 514.5h1M112 514.5h3M116 514.5h1M123 514.5h1M126 514.5h1M131 514.5h1M115 515.5h1M127 515.5h1M130 515.5h1M107 516.5h1M111 516.5h1M129 516.5h1M100 517.5h1M108 517.5h1M110 517.5h1M116 517.5h1M121 517.5h2M132 517.5h1M95 518.5h1M99 518.5h1M101 518.5h1M105 518.5h1M116 518.5h1M134 518.5h1M66 519.5h1M104 519.5h3M117 519.5h1M120 519.5h1M92 520.5h1M98 520.5h1M103 520.5h1M106 520.5h2M111 520.5h1M114 520.5h1M116 520.5h1M138 520.5h2M99 521.5h1M107 521.5h1M111 521.5h1M115 521.5h1M117 521.5h1M121 521.5h1M123 521.5h1M141 521.5h1M104 522.5h1M132 522.5h1M97 523.5h1M111 523.5h1M113 523.5h1M139 523.5h1M96 524.5h1M105 524.5h1M116 524.5h1M122 524.5h1M94 525.5h1M112 525.5h1M115 525.5h1M118 525.5h1M98 526.5h1M102 526.5h1M104 526.5h1M111 526.5h1M115 526.5h1M117 526.5h1M101 527.5h1M123 527.5h1M77 528.5h1M110 528.5h2M113 528.5h1M115 528.5h1M118 528.5h1M98 529.5h1M105 529.5h1M109 529.5h1M113 529.5h1M117 529.5h2M123 529.5h1M75 530.5h1M97 530.5h1M104 530.5h1M108 530.5h2M112 530.5h1M115 530.5h1M119 530.5h1M72 531.5h1M88 531.5h1M107 531.5h1M114 531.5h1M124 531.5h1M128 531.5h1M131 531.5h1M90 532.5h1M93 532.5h1M96 532.5h1M104 532.5h2M108 532.5h1M111 532.5h1M115 532.5h1M120 532.5h2M131 532.5h1M93 533.5h1M95 533.5h1M104 533.5h1M106 533.5h1M108 533.5h2M115 533.5h2M120 533.5h1M87 534.5h1M97 534.5h1M99 534.5h1M102 534.5h1M111 534.5h1M124 534.5h1M74 535.5h1M84 535.5h1M100 535.5h1M104 535.5h1M107 535.5h1M110 535.5h2M114 535.5h2M97 536.5h1M101 536.5h1M103 536.5h1M106 536.5h1M110 536.5h1M113 536.5h1M117 536.5h1M119 536.5h1M122 536.5h1M125 536.5h1M104 537.5h2M113 537.5h1M120 537.5h1M123 537.5h1M141 537.5h2M86 538.5h1M92 538.5h2M102 538.5h1M105 538.5h1M109 538.5h4M115 538.5h3M125 538.5h1M78 539.5h1M88 539.5h1M93 539.5h1M95 539.5h1M98 539.5h1M102 539.5h2M108 539.5h2M111 539.5h1M114 539.5h1M119 539.5h1M121 539.5h1M129 539.5h1M98 540.5h1M117 540.5h1M84 541.5h1M89 541.5h1M100 541.5h1M103 541.5h2M106 541.5h2M116 541.5h1M120 541.5h1M125 541.5h1M133 541.5h1M92 542.5h1M94 542.5h1M102 542.5h1M105 542.5h1M108 542.5h1M114 542.5h1M120 542.5h1M132 542.5h1M158 542.5h1M64 543.5h1M87 543.5h5M102 543.5h1M107 543.5h2M110 543.5h2M120 543.5h1M126 543.5h1M55 544.5h1M72 544.5h1M92 544.5h1M94 544.5h2M102 544.5h1M105 544.5h1M108 544.5h2M114 544.5h1M120 544.5h1M122 544.5h1M128 544.5h1M138 544.5h1M28 545.5h1M88 545.5h1M93 545.5h3M102 545.5h1M110 545.5h1M112 545.5h1M117 545.5h1M121 545.5h1M124 545.5h2M90 546.5h2M95 546.5h1M98 546.5h1M100 546.5h2M110 546.5h3M119 546.5h1M121 546.5h1M80 547.5h1M85 547.5h1M93 547.5h1M99 547.5h6M111 547.5h1M116 547.5h3M127 547.5h1M84 548.5h1M90 548.5h2M94 548.5h1M101 548.5h1M106 548.5h1M109 548.5h1M111 548.5h1M113 548.5h2M116 548.5h1M121 548.5h1M123 548.5h1M85 549.5h1M92 549.5h2M96 549.5h2M101 549.5h1M107 549.5h1M109 549.5h2M127 549.5h1M82 550.5h1M91 550.5h1M95 550.5h1M100 550.5h3M104 550.5h1M107 550.5h1M109 550.5h1M111 550.5h1M115 550.5h1M54 551.5h1M74 551.5h1M77 551.5h1M84 551.5h2M101 551.5h1M109 551.5h1M112 551.5h2M116 551.5h1M118 551.5h1M52 552.5h1M72 552.5h1M83 552.5h2M87 552.5h1M91 552.5h2M96 552.5h1M98 552.5h1M100 552.5h1M103 552.5h3M108 552.5h2M111 552.5h1M115 552.5h2M121 552.5h1M125 552.5h1M127 552.5h1M135 552.5h1M89 553.5h1M94 553.5h1M97 553.5h1M107 553.5h1M109 553.5h1M113 553.5h1M115 553.5h1M122 553.5h1M66 554.5h1M79 554.5h2M84 554.5h1M88 554.5h2M101 554.5h1M104 554.5h1M107 554.5h1M112 554.5h1M116 554.5h2M138 554.5h1M83 555.5h2M86 555.5h2M89 555.5h1M93 555.5h1M96 555.5h1M98 555.5h1M102 555.5h1M105 555.5h1M107 555.5h2M114 555.5h1M118 555.5h1M122 555.5h1M138 555.5h1M76 556.5h1M85 556.5h1M87 556.5h3M91 556.5h1M94 556.5h1M96 556.5h4M102 556.5h2M108 556.5h1M110 556.5h1M113 556.5h1M116 556.5h1M119 556.5h1M125 556.5h1M66 557.5h1M86 557.5h1M100 557.5h1M104 557.5h1M108 557.5h1M116 557.5h1M121 557.5h1M129 557.5h1M79 558.5h1M87 558.5h1M96 558.5h3M104 558.5h1M106 558.5h1M112 558.5h3M116 558.5h1M63 559.5h1M78 559.5h1M82 559.5h2M88 559.5h1M94 559.5h1M97 559.5h2M100 559.5h1M102 559.5h1M105 559.5h4M113 559.5h1M115 559.5h1M122 559.5h1M74 560.5h1M79 560.5h1M86 560.5h1M89 560.5h1M98 560.5h1M103 560.5h2M106 560.5h1M110 560.5h1M114 560.5h1M117 560.5h1M125 560.5h1M68 561.5h1M71 561.5h1M73 561.5h1M75 561.5h1M80 561.5h1M93 561.5h1M95 561.5h2M99 561.5h1M107 561.5h1M109 561.5h1M112 561.5h1M114 561.5h1M117 561.5h2M74 562.5h1M84 562.5h1M91 562.5h1M95 562.5h1M101 562.5h4M107 562.5h1M111 562.5h1M115 562.5h1M117 562.5h1M85 563.5h1M87 563.5h1M91 563.5h4M98 563.5h2M105 563.5h1M107 563.5h2M117 563.5h3M130 563.5h1M140 563.5h1M36 564.5h1M66 564.5h1M68 564.5h1M72 564.5h1M82 564.5h1M86 564.5h1M95 564.5h2M101 564.5h1M105 564.5h3M111 564.5h2M114 564.5h1M117 564.5h1M138 564.5h1M71 565.5h1M80 565.5h1M85 565.5h1M90 565.5h1M98 565.5h6M106 565.5h6M114 565.5h1M119 565.5h1M125 565.5h1M66 566.5h1M80 566.5h1M97 566.5h1M99 566.5h1M102 566.5h1M107 566.5h1M113 566.5h1M117 566.5h1M67 567.5h1M76 567.5h2M92 567.5h1M97 567.5h1M100 567.5h1M104 567.5h3M111 567.5h1M113 567.5h1M123 567.5h1M62 568.5h1M66 568.5h1M75 568.5h2M78 568.5h1M85 568.5h2M90 568.5h4M96 568.5h1M98 568.5h1M102 568.5h1M106 568.5h1M109 568.5h1M112 568.5h2M116 568.5h1M124 568.5h1M129 568.5h1M58 569.5h1M78 569.5h2M82 569.5h1M85 569.5h2M94 569.5h3M99 569.5h1M102 569.5h1M105 569.5h2M108 569.5h1M112 569.5h1M118 569.5h2M121 569.5h1M74 570.5h1M79 570.5h2M82 570.5h1M86 570.5h4M91 570.5h7M100 570.5h1M105 570.5h1M109 570.5h1M111 570.5h1M70 571.5h1M73 571.5h1M82 571.5h9M92 571.5h3M96 571.5h1M98 571.5h2M103 571.5h2M107 571.5h1M112 571.5h1M116 571.5h1M118 571.5h1M129 571.5h1M132 571.5h1M69 572.5h1M73 572.5h1M77 572.5h1M85 572.5h1M88 572.5h7M96 572.5h2M99 572.5h1M101 572.5h1M103 572.5h1M107 572.5h1M111 572.5h1M128 572.5h1M69 573.5h1M75 573.5h1M77 573.5h1M81 573.5h4M92 573.5h3M96 573.5h1M98 573.5h4M103 573.5h1M106 573.5h1M109 573.5h2M121 573.5h1M128 573.5h1M77 574.5h2M85 574.5h4M90 574.5h2M94 574.5h5M102 574.5h2M107 574.5h1M109 574.5h1M112 574.5h1M124 574.5h1M131 574.5h1M66 575.5h1M85 575.5h1M87 575.5h2M91 575.5h2M95 575.5h1M97 575.5h1M100 575.5h1M102 575.5h1M104 575.5h1M107 575.5h2M113 575.5h1M115 575.5h1M127 575.5h1M134 575.5h1M142 575.5h1M73 576.5h1M77 576.5h1M81 576.5h1M87 576.5h1M90 576.5h3M95 576.5h1M103 576.5h2M106 576.5h2M114 576.5h3M118 576.5h1M122 576.5h1M59 577.5h1M75 577.5h1M82 577.5h1M84 577.5h1M87 577.5h1M90 577.5h2M93 577.5h1M95 577.5h1M97 577.5h4M105 577.5h1M108 577.5h1M114 577.5h1M118 577.5h1M44 578.5h1M76 578.5h1M82 578.5h1M85 578.5h1M88 578.5h1M90 578.5h1M92 578.5h2M96 578.5h1M98 578.5h3M102 578.5h1M104 578.5h3M114 578.5h1M124 578.5h1M131 578.5h1M45 579.5h1M67 579.5h1M69 579.5h1M71 579.5h1M76 579.5h1M78 579.5h1M80 579.5h1M82 579.5h2M85 579.5h2M90 579.5h1M95 579.5h1M98 579.5h3M104 579.5h1M106 579.5h2M109 579.5h1M113 579.5h1M117 579.5h1M122 579.5h1M126 579.5h1M134 579.5h1M67 580.5h2M75 580.5h2M85 580.5h2M89 580.5h1M93 580.5h1M97 580.5h2M102 580.5h4M109 580.5h2M114 580.5h1M119 580.5h1M125 580.5h1M131 580.5h1M50 581.5h1M59 581.5h1M71 581.5h1M77 581.5h1M79 581.5h1M81 581.5h1M85 581.5h1M88 581.5h2M91 581.5h1M94 581.5h1M97 581.5h3M102 581.5h1M105 581.5h1M107 581.5h2M110 581.5h1M113 581.5h2M116 581.5h1M60 582.5h1M66 582.5h1M69 582.5h1M72 582.5h1M77 582.5h3M81 582.5h6M88 582.5h1M90 582.5h1M93 582.5h2M96 582.5h1M98 582.5h1M104 582.5h1M108 582.5h2M113 582.5h1M116 582.5h1M64 583.5h1M73 583.5h1M76 583.5h4M82 583.5h1M86 583.5h3M93 583.5h1M101 583.5h1M103 583.5h1M108 583.5h1M110 583.5h1M120 583.5h1M73 584.5h1M77 584.5h1M79 584.5h2M83 584.5h1M85 584.5h5M91 584.5h3M95 584.5h2M99 584.5h2M104 584.5h1M108 584.5h1M117 584.5h2M125 584.5h1M74 585.5h1M82 585.5h2M85 585.5h1M87 585.5h1M92 585.5h3M97 585.5h2M101 585.5h1M103 585.5h1M107 585.5h2M110 585.5h1M112 585.5h1M119 585.5h1M121 585.5h1M132 585.5h1M58 586.5h1M67 586.5h1M72 586.5h3M80 586.5h3M84 586.5h1M86 586.5h1M88 586.5h2M91 586.5h2M95 586.5h1M98 586.5h2M103 586.5h2M106 586.5h1M110 586.5h1M122 586.5h1M75 587.5h1M77 587.5h1M80 587.5h1M84 587.5h2M94 587.5h4M100 587.5h2M105 587.5h3M110 587.5h1M116 587.5h2M119 587.5h1M122 587.5h1M75 588.5h1M77 588.5h1M79 588.5h1M87 588.5h2M90 588.5h1M96 588.5h2M100 588.5h2M103 588.5h2M112 588.5h1M115 588.5h1M125 588.5h1M127 588.5h1M59 589.5h1M62 589.5h1M68 589.5h1M80 589.5h1M83 589.5h1M86 589.5h2M90 589.5h5M100 589.5h1M108 589.5h1M115 589.5h1M118 589.5h2M49 590.5h1M70 590.5h1M73 590.5h1M75 590.5h1M77 590.5h1M79 590.5h1M88 590.5h2M93 590.5h1M100 590.5h2M103 590.5h1M105 590.5h1M66 591.5h1M71 591.5h2M76 591.5h1M80 591.5h1M89 591.5h2M92 591.5h2M95 591.5h1M98 591.5h1M106 591.5h1M115 591.5h1M118 591.5h1M59 592.5h1M67 592.5h1M72 592.5h3M77 592.5h2M82 592.5h3M93 592.5h1M96 592.5h2M100 592.5h1M104 592.5h1M107 592.5h1M115 592.5h1M65 593.5h1M76 593.5h2M79 593.5h2M85 593.5h1M89 593.5h1M93 593.5h1M96 593.5h1M101 593.5h1M105 593.5h1M121 593.5h1M123 593.5h1M128 593.5h1M65 594.5h1M69 594.5h1M72 594.5h1M89 594.5h1M94 594.5h1M96 594.5h1M98 594.5h1M101 594.5h2M107 594.5h1M115 594.5h1M51 595.5h1M61 595.5h1M67 595.5h1M72 595.5h2M78 595.5h1M80 595.5h1M89 595.5h1M97 595.5h1M101 595.5h1M104 595.5h2M108 595.5h1M111 595.5h1M59 596.5h2M72 596.5h2M76 596.5h1M83 596.5h1M85 596.5h1M87 596.5h3M92 596.5h2M97 596.5h1M99 596.5h1M105 596.5h1M107 596.5h1M113 596.5h1M58 597.5h1M70 597.5h1M73 597.5h2M79 597.5h1M86 597.5h1M88 597.5h1M91 597.5h2M96 597.5h1M107 597.5h1M109 597.5h1M113 597.5h1M115 597.5h1M117 597.5h2M67 598.5h1M77 598.5h1M81 598.5h1M83 598.5h1M93 598.5h1M97 598.5h1M100 598.5h1M107 598.5h1M109 598.5h1M111 598.5h1M56 599.5h1M65 599.5h1M74 599.5h1M77 599.5h1M82 599.5h1M84 599.5h1M87 599.5h2M93 599.5h1M95 599.5h1M97 599.5h1M101 599.5h1M106 599.5h2M111 599.5h1M113 599.5h1M67 600.5h1M91 600.5h1M93 600.5h1M95 600.5h1M99 600.5h1M101 600.5h1M103 600.5h2M106 600.5h1M109 600.5h1M131 600.5h1M86 601.5h3M90 601.5h1M93 601.5h1M105 601.5h1M112 601.5h2M126 601.5h1M57 602.5h1M74 602.5h1M93 602.5h1M96 602.5h1M98 602.5h1M105 602.5h2M109 602.5h1M114 602.5h1M65 603.5h1M69 603.5h2M80 603.5h1M83 603.5h2M86 603.5h1M92 603.5h1M99 603.5h1M101 603.5h1M104 603.5h1M114 603.5h1M71 604.5h1M78 604.5h1M81 604.5h1M88 604.5h1M91 604.5h1M95 604.5h2M98 604.5h1M100 604.5h1M103 604.5h1M78 605.5h1M81 605.5h1M85 605.5h1M87 605.5h3M95 605.5h1M100 605.5h1M102 605.5h1M69 606.5h1M82 606.5h1M88 606.5h1M90 606.5h1M101 606.5h1M104 606.5h2M68 607.5h1M74 607.5h1M89 607.5h2M97 607.5h1M101 607.5h1M114 607.5h1M72 608.5h1M76 608.5h1M81 608.5h1M86 608.5h1M92 608.5h1M96 608.5h1M103 608.5h1M108 608.5h2M52 609.5h1M58 609.5h1M76 609.5h1M89 609.5h1M95 609.5h1M103 609.5h1M123 609.5h1M75 610.5h2M79 610.5h1M81 610.5h1M87 610.5h1M89 610.5h2M97 610.5h1M99 610.5h1M103 610.5h2M106 610.5h1M114 610.5h1M138 610.5h1M39 611.5h1M89 611.5h1M94 611.5h2M114 611.5h1M71 612.5h1M86 612.5h2M92 612.5h1M71 613.5h3M76 613.5h1M98 613.5h1M75 614.5h1M87 614.5h1M95 614.5h1M105 614.5h3M114 614.5h1M87 615.5h1M73 616.5h1M87 616.5h1M90 616.5h1M108 616.5h1M58 617.5h1M75 617.5h1M88 617.5h1M90 617.5h1M61 618.5h1M64 618.5h1M66 618.5h1M101 618.5h1M136 618.5h1M71 619.5h3M76 619.5h1M91 619.5h1M99 619.5h1M124 619.5h1M80 620.5h1M89 620.5h2M116 620.5h1M76 621.5h1M86 621.5h1M89 621.5h1M98 621.5h1M77 622.5h1M83 622.5h1M91 622.5h1M103 622.5h1M108 622.5h1M110 622.5h1M71 623.5h1M98 623.5h1M101 623.5h1M82 624.5h1M89 624.5h2M107 624.5h1M49 625.5h1M67 625.5h1M112 625.5h1M85 626.5h1M95 626.5h1M70 627.5h1M78 627.5h1M81 627.5h1M88 627.5h1M57 628.5h1M75 628.5h1M69 629.5h1M109 629.5h1M66 630.5h1M90 630.5h1M93 630.5h1M115 631.5h1M49 632.5h1M47 633.5h1M77 633.5h1M83 633.5h1M77 636.5h1M104 636.5h1M95 637.5h1M97 637.5h1M67 640.5h1M31 641.5h1M99 641.5h1M59 642.5h1M58 650.5h1M94 650.5h1M103 650.5h1M67 652.5h1M145 653.5h1M90 665.5h1M96 665.5h1M34 666.5h1M60 666.5h1M67 666.5h1M70 666.5h2M76 666.5h2M81 666.5h1M83 666.5h7M93 666.5h2M96 666.5h1M98 666.5h1M101 666.5h1M106 666.5h1M109 666.5h1M111 666.5h1M113 666.5h1M115 666.5h3M122 666.5h1M132 666.5h1M136 666.5h1" stroke="#141414" stroke-opacity="0.68" stroke-width="1" fill="none" shape-rendering="crispEdges"/>
<rect x="23.9" y="467.1" width="201.8" height="200.5" fill="none" stroke="#333" stroke-width="1.1"/>
<line x1="154.9" y1="467.1" x2="154.9" y2="667.6" stroke="#2a2a2a" stroke-width="1.2"/>
<line x1="23.9" y1="532.5" x2="225.7" y2="532.5" stroke="#2a2a2a" stroke-width="1.2"/>
<path d="M39.1 668.0v-1.4M23.0 652.5h1.4M48.0 668.0v-1.4M23.0 643.7h1.4M54.3 668.0v-1.4M23.0 637.4h1.4M59.2 668.0v-1.4M23.0 632.6h1.4M63.2 668.0v-1.4M23.0 628.6h1.4M66.5 668.0v-1.4M23.0 625.2h1.4M69.5 668.0v-1.4M23.0 622.3h1.4M72.0 668.0v-1.4M23.0 619.8h1.4M89.5 668.0v-1.4M23.0 602.4h1.4M98.4 668.0v-1.4M23.0 593.6h1.4M104.7 668.0v-1.4M23.0 587.3h1.4M109.6 668.0v-1.4M23.0 582.4h1.4M113.6 668.0v-1.4M23.0 578.5h1.4M117.0 668.0v-1.4M23.0 575.1h1.4M119.9 668.0v-1.4M23.0 572.2h1.4M122.5 668.0v-1.4M23.0 569.6h1.4M140.0 668.0v-1.4M23.0 552.3h1.4M148.9 668.0v-1.4M23.0 543.4h1.4M155.2 668.0v-1.4M23.0 537.2h1.4M160.1 668.0v-1.4M23.0 532.3h1.4M164.1 668.0v-1.4M23.0 528.3h1.4M167.4 668.0v-1.4M23.0 525.0h1.4M170.4 668.0v-1.4M23.0 522.1h1.4M172.9 668.0v-1.4M23.0 519.5h1.4M190.4 668.0v-1.4M23.0 502.1h1.4M199.3 668.0v-1.4M23.0 493.3h1.4M205.6 668.0v-1.4M23.0 487.0h1.4M210.5 668.0v-1.4M23.0 482.2h1.4M214.5 668.0v-1.4M23.0 478.2h1.4M217.9 668.0v-1.4M23.0 474.9h1.4M220.8 668.0v-1.4M23.0 472.0h1.4M223.4 668.0v-1.4M23.0 469.4h1.4" stroke="#333" stroke-width="0.8" fill="none"/>
<path d="M473 472.5h1M403 473.5h1M464 473.5h1M458 474.5h1M462 474.5h1M471 476.5h1M416 477.5h1M421 477.5h1M440 477.5h1M462 478.5h1M464 478.5h1M467 479.5h1M470 479.5h1M467 481.5h1M407 482.5h1M454 482.5h1M417 484.5h1M459 484.5h1M463 484.5h1M468 484.5h1M475 484.5h1M462 485.5h1M464 485.5h1M466 485.5h1M468 485.5h1M411 486.5h1M450 486.5h1M390 487.5h1M452 487.5h1M473 487.5h1M363 488.5h1M443 488.5h1M406 489.5h1M452 489.5h1M461 489.5h2M466 489.5h1M416 490.5h1M467 490.5h1M469 490.5h1M481 490.5h1M355 491.5h1M417 491.5h1M427 491.5h1M463 491.5h1M468 491.5h1M472 491.5h1M455 492.5h1M457 492.5h2M462 492.5h1M468 492.5h1M388 493.5h1M392 493.5h1M414 493.5h1M445 493.5h1M447 493.5h1M410 494.5h1M423 494.5h1M453 494.5h1M461 494.5h1M465 494.5h1M457 495.5h1M460 495.5h1M463 495.5h1M477 495.5h1M401 496.5h1M406 496.5h1M410 496.5h1M445 496.5h1M455 496.5h2M464 496.5h1M470 496.5h1M390 497.5h1M401 497.5h1M404 497.5h1M407 497.5h1M421 497.5h1M444 497.5h1M465 497.5h1M402 498.5h1M410 498.5h1M456 498.5h1M458 498.5h1M385 499.5h1M394 499.5h1M407 499.5h1M426 499.5h1M434 499.5h1M442 499.5h1M446 499.5h1M459 499.5h3M463 499.5h1M469 499.5h1M476 499.5h1M401 500.5h1M407 500.5h1M413 500.5h1M461 500.5h1M380 501.5h2M390 502.5h1M398 502.5h1M409 502.5h1M451 502.5h1M454 502.5h1M459 502.5h1M370 503.5h1M376 503.5h1M459 503.5h2M470 503.5h1M370 504.5h1M390 504.5h1M395 504.5h1M439 504.5h1M449 504.5h1M453 504.5h1M455 504.5h1M460 504.5h2M469 504.5h1M362 505.5h1M404 505.5h1M407 505.5h1M396 506.5h1M451 506.5h1M393 507.5h1M403 507.5h1M445 507.5h1M466 507.5h1M411 508.5h1M438 508.5h1M450 508.5h1M453 508.5h1M457 508.5h1M481 508.5h1M388 509.5h1M404 509.5h1M441 509.5h1M443 509.5h1M450 509.5h1M455 509.5h1M381 510.5h1M384 510.5h1M392 510.5h1M452 511.5h2M389 513.5h1M393 513.5h3M397 513.5h1M386 514.5h1M391 514.5h1M393 514.5h1M397 514.5h1M404 514.5h1M449 514.5h1M368 515.5h1M381 515.5h1M392 515.5h1M396 515.5h1M398 515.5h1M404 515.5h1M368 516.5h1M397 516.5h1M427 516.5h1M452 516.5h1M363 517.5h1M365 517.5h1M387 517.5h1M397 517.5h2M404 517.5h1M468 517.5h1M373 518.5h1M381 518.5h1M395 518.5h1M398 518.5h1M407 518.5h1M442 518.5h1M445 518.5h1M369 519.5h1M380 519.5h1M417 519.5h1M383 520.5h1M390 520.5h1M435 520.5h1M463 520.5h1M458 521.5h2M386 522.5h1M443 522.5h1M371 523.5h1M378 523.5h1M405 523.5h1M377 524.5h1M388 524.5h2M408 524.5h1M372 525.5h1M379 525.5h1M391 525.5h1M395 525.5h1M419 525.5h1M361 526.5h1M379 526.5h1M391 526.5h1M394 526.5h1M449 526.5h1M368 527.5h1M373 527.5h1M378 527.5h1M388 527.5h1M446 527.5h1M341 528.5h1M379 528.5h1M400 528.5h1M409 528.5h1M373 529.5h1M380 529.5h1M389 529.5h1M407 529.5h1M410 529.5h1M377 530.5h1M380 530.5h1M382 530.5h1M392 530.5h1M367 531.5h1M369 531.5h1M371 531.5h1M375 531.5h1M386 531.5h1M389 531.5h1M407 531.5h2M411 531.5h1M415 531.5h1M370 532.5h1M374 532.5h1M378 532.5h2M381 532.5h2M388 532.5h1M392 532.5h2M398 532.5h1M403 532.5h1M407 532.5h1M367 533.5h1M377 533.5h1M384 533.5h1M408 533.5h1M441 533.5h1M344 534.5h1M369 534.5h1M377 534.5h1M379 534.5h2M383 534.5h1M394 534.5h1M442 534.5h1M360 535.5h1M366 535.5h1M376 535.5h1M382 535.5h1M394 535.5h1M386 536.5h1M390 536.5h1M414 536.5h1M447 536.5h1M364 537.5h2M369 537.5h1M388 537.5h1M403 537.5h1M405 537.5h1M410 537.5h1M359 538.5h1M370 538.5h2M374 538.5h1M386 538.5h1M396 538.5h1M418 538.5h1M351 539.5h1M374 539.5h1M387 539.5h2M350 540.5h1M373 540.5h1M393 540.5h1M402 540.5h1M444 540.5h1M352 541.5h1M368 541.5h1M371 541.5h1M383 541.5h1M388 541.5h1M394 541.5h2M397 541.5h1M340 542.5h1M374 542.5h1M384 542.5h1M386 542.5h1M390 542.5h1M396 542.5h2M399 542.5h1M406 542.5h1M467 542.5h1M349 543.5h1M362 543.5h1M372 543.5h1M374 543.5h1M379 543.5h1M381 543.5h2M386 543.5h1M394 543.5h1M396 543.5h1M400 543.5h1M347 544.5h1M362 544.5h2M366 544.5h1M375 544.5h1M383 544.5h1M389 544.5h1M392 544.5h1M395 544.5h1M407 544.5h1M451 544.5h1M344 545.5h1M358 545.5h1M365 545.5h1M371 545.5h1M374 545.5h2M378 545.5h1M382 545.5h1M399 545.5h1M407 545.5h1M413 545.5h1M351 546.5h1M356 546.5h1M361 546.5h1M367 546.5h1M372 546.5h1M375 546.5h1M378 546.5h2M385 546.5h1M394 546.5h1M411 546.5h1M360 547.5h2M364 547.5h1M370 547.5h1M375 547.5h1M377 547.5h1M379 547.5h1M383 547.5h1M385 547.5h1M388 547.5h1M392 547.5h1M394 547.5h1M396 547.5h1M400 547.5h1M403 547.5h1M406 547.5h1M346 548.5h1M358 548.5h1M365 548.5h2M373 548.5h2M376 548.5h3M383 548.5h1M389 548.5h1M401 548.5h1M360 549.5h1M364 549.5h1M373 549.5h1M377 549.5h1M381 549.5h1M387 549.5h1M339 550.5h1M350 550.5h1M358 550.5h3M369 550.5h1M374 550.5h1M378 550.5h2M385 550.5h1M388 550.5h1M390 550.5h1M395 550.5h1M398 550.5h1M462 550.5h1M355 551.5h1M377 551.5h1M379 551.5h1M382 551.5h2M390 551.5h1M392 551.5h1M394 551.5h2M398 551.5h1M332 552.5h1M354 552.5h1M361 552.5h1M364 552.5h1M372 552.5h1M377 552.5h2M380 552.5h2M383 552.5h1M386 552.5h1M390 552.5h1M331 553.5h1M356 553.5h1M361 553.5h1M366 553.5h1M373 553.5h3M384 553.5h1M391 553.5h2M401 553.5h1M330 554.5h1M348 554.5h1M351 554.5h1M355 554.5h1M368 554.5h1M372 554.5h2M376 554.5h1M379 554.5h1M384 554.5h1M391 554.5h2M395 554.5h1M404 554.5h1M353 555.5h1M361 555.5h1M365 555.5h1M367 555.5h1M375 555.5h1M378 555.5h1M380 555.5h1M384 555.5h1M387 555.5h1M406 555.5h1M315 556.5h1M351 556.5h1M354 556.5h1M359 556.5h1M362 556.5h1M366 556.5h3M373 556.5h1M380 556.5h1M385 556.5h2M388 556.5h1M391 556.5h1M401 556.5h1M325 557.5h1M359 557.5h1M364 557.5h1M367 557.5h1M370 557.5h1M372 557.5h1M379 557.5h2M385 557.5h2M391 557.5h1M395 557.5h1M397 557.5h1M400 557.5h2M344 558.5h1M346 558.5h1M356 558.5h1M358 558.5h1M362 558.5h1M369 558.5h1M371 558.5h1M374 558.5h1M380 558.5h1M385 558.5h2M388 558.5h1M392 558.5h1M415 558.5h1M451 558.5h1M362 559.5h1M364 559.5h2M369 559.5h2M372 559.5h4M379 559.5h1M383 559.5h1M386 559.5h4M394 559.5h1M399 559.5h1M403 559.5h1M313 560.5h1M345 560.5h1M355 560.5h2M365 560.5h1M370 560.5h1M372 560.5h1M376 560.5h1M379 560.5h2M387 560.5h1M391 560.5h2M394 560.5h1M313 561.5h1M340 561.5h1M349 561.5h1M355 561.5h1M365 561.5h1M372 561.5h1M374 561.5h1M379 561.5h2M382 561.5h1M388 561.5h2M409 561.5h1M314 562.5h1M357 562.5h1M362 562.5h1M364 562.5h2M367 562.5h2M370 562.5h1M372 562.5h1M376 562.5h1M381 562.5h1M383 562.5h1M386 562.5h1M389 562.5h1M395 562.5h1M400 562.5h2M467 562.5h1M321 563.5h1M354 563.5h1M356 563.5h1M361 563.5h2M372 563.5h3M376 563.5h2M379 563.5h1M381 563.5h1M384 563.5h1M387 563.5h2M390 563.5h1M394 563.5h2M397 563.5h1M404 563.5h1M417 563.5h1M346 564.5h1M357 564.5h3M361 564.5h1M367 564.5h2M373 564.5h3M377 564.5h1M381 564.5h2M385 564.5h1M392 564.5h4M400 564.5h2M348 565.5h1M353 565.5h2M360 565.5h1M370 565.5h1M372 565.5h2M377 565.5h1M381 565.5h1M384 565.5h1M393 565.5h1M400 565.5h1M354 566.5h3M358 566.5h1M360 566.5h1M362 566.5h1M368 566.5h2M371 566.5h2M378 566.5h2M382 566.5h2M386 566.5h2M389 566.5h1M393 566.5h1M344 567.5h1M357 567.5h2M360 567.5h1M362 567.5h1M365 567.5h4M370 567.5h3M376 567.5h1M379 567.5h2M383 567.5h1M385 567.5h1M387 567.5h1M390 567.5h1M393 567.5h1M395 567.5h2M400 567.5h1M347 568.5h1M349 568.5h1M358 568.5h2M363 568.5h1M365 568.5h1M368 568.5h2M371 568.5h2M377 568.5h2M383 568.5h1M387 568.5h1M390 568.5h1M397 568.5h1M403 568.5h1M348 569.5h1M355 569.5h1M357 569.5h2M360 569.5h1M362 569.5h2M369 569.5h1M371 569.5h2M374 569.5h3M383 569.5h2M387 569.5h1M398 569.5h1M406 569.5h1M342 570.5h1M345 570.5h2M348 570.5h1M357 570.5h1M360 570.5h5M367 570.5h1M369 570.5h3M373 570.5h2M378 570.5h1M382 570.5h2M386 570.5h2M395 570.5h3M348 571.5h3M352 571.5h1M354 571.5h3M359 571.5h4M364 571.5h2M367 571.5h2M370 571.5h1M375 571.5h2M378 571.5h2M382 571.5h1M385 571.5h1M388 571.5h1M346 572.5h1M349 572.5h2M362 572.5h1M365 572.5h1M367 572.5h1M377 572.5h1M380 572.5h3M387 572.5h1M327 573.5h1M356 573.5h1M358 573.5h1M361 573.5h1M365 573.5h1M369 573.5h1M371 573.5h1M373 573.5h3M377 573.5h1M379 573.5h2M382 573.5h1M384 573.5h1M389 573.5h2M392 573.5h1M397 573.5h2M347 574.5h1M359 574.5h1M364 574.5h3M371 574.5h3M379 574.5h1M381 574.5h3M385 574.5h1M387 574.5h1M389 574.5h2M395 574.5h1M400 574.5h1M414 574.5h1M356 575.5h1M359 575.5h1M361 575.5h3M366 575.5h2M369 575.5h2M373 575.5h2M382 575.5h1M386 575.5h1M389 575.5h1M425 575.5h1M354 576.5h1M360 576.5h1M362 576.5h2M366 576.5h1M372 576.5h1M376 576.5h5M382 576.5h4M389 576.5h1M393 576.5h1M401 576.5h1M327 577.5h1M357 577.5h2M360 577.5h1M365 577.5h3M369 577.5h4M376 577.5h3M383 577.5h1M387 577.5h1M398 577.5h2M401 577.5h1M338 578.5h1M345 578.5h1M354 578.5h1M356 578.5h2M362 578.5h1M367 578.5h1M371 578.5h1M373 578.5h4M378 578.5h2M382 578.5h2M387 578.5h2M390 578.5h1M393 578.5h2M402 578.5h1M331 579.5h1M334 579.5h1M344 579.5h2M352 579.5h1M355 579.5h1M357 579.5h1M360 579.5h2M363 579.5h2M368 579.5h1M371 579.5h2M374 579.5h2M377 579.5h1M381 579.5h1M384 579.5h1M398 579.5h1M321 580.5h1M338 580.5h1M345 580.5h1M356 580.5h1M358 580.5h1M361 580.5h4M366 580.5h1M371 580.5h1M374 580.5h1M376 580.5h2M381 580.5h1M383 580.5h2M391 580.5h1M354 581.5h2M357 581.5h1M362 581.5h3M366 581.5h1M371 581.5h1M374 581.5h2M377 581.5h3M381 581.5h1M385 581.5h1M387 581.5h1M349 582.5h1M351 582.5h1M353 582.5h1M356 582.5h1M359 582.5h3M374 582.5h1M376 582.5h2M380 582.5h1M382 582.5h1M385 582.5h1M388 582.5h1M413 582.5h1M343 583.5h2M346 583.5h1M349 583.5h1M353 583.5h1M355 583.5h1M357 583.5h2M361 583.5h2M364 583.5h2M367 583.5h3M374 583.5h2M377 583.5h1M380 583.5h1M383 583.5h1M387 583.5h1M393 583.5h1M338 584.5h1M349 584.5h4M356 584.5h1M358 584.5h7M366 584.5h1M368 584.5h2M371 584.5h1M373 584.5h1M376 584.5h1M379 584.5h1M383 584.5h1M392 584.5h2M354 585.5h2M359 585.5h2M362 585.5h3M366 585.5h1M368 585.5h2M372 585.5h2M378 585.5h2M381 585.5h2M388 585.5h1M390 585.5h1M394 585.5h1M455 585.5h1M342 586.5h1M345 586.5h1M349 586.5h1M351 586.5h2M355 586.5h1M361 586.5h3M365 586.5h6M372 586.5h2M375 586.5h2M378 586.5h1M380 586.5h1M382 586.5h1M384 586.5h1M387 586.5h1M390 586.5h1M394 586.5h1M345 587.5h1M349 587.5h1M354 587.5h1M357 587.5h3M363 587.5h3M368 587.5h3M372 587.5h2M377 587.5h1M381 587.5h3M385 587.5h1M391 587.5h2M327 588.5h2M351 588.5h1M358 588.5h2M361 588.5h1M364 588.5h1M366 588.5h4M373 588.5h2M378 588.5h1M381 588.5h1M383 588.5h2M389 588.5h1M394 588.5h1M410 588.5h1M321 589.5h1M324 589.5h1M341 589.5h1M346 589.5h1M349 589.5h1M358 589.5h1M364 589.5h3M368 589.5h4M376 589.5h1M378 589.5h2M385 589.5h1M387 589.5h1M391 589.5h1M395 589.5h3M347 590.5h2M352 590.5h1M358 590.5h1M360 590.5h1M362 590.5h1M365 590.5h1M368 590.5h1M371 590.5h1M373 590.5h3M377 590.5h2M381 590.5h1M389 590.5h1M343 591.5h1M351 591.5h1M354 591.5h1M358 591.5h1M361 591.5h1M363 591.5h1M365 591.5h1M367 591.5h3M379 591.5h1M383 591.5h1M387 591.5h2M390 591.5h1M394 591.5h1M341 592.5h1M351 592.5h1M355 592.5h1M358 592.5h1M360 592.5h1M364 592.5h2M368 592.5h3M372 592.5h1M376 592.5h4M384 592.5h2M389 592.5h1M340 593.5h1M344 593.5h1M348 593.5h1M351 593.5h2M355 593.5h4M360 593.5h2M363 593.5h1M366 593.5h2M369 593.5h2M382 593.5h3M396 593.5h1M340 594.5h1M342 594.5h1M345 594.5h1M351 594.5h1M353 594.5h3M357 594.5h1M365 594.5h1M367 594.5h1M370 594.5h2M374 594.5h1M377 594.5h1M385 594.5h1M391 594.5h1M414 594.5h1M418 594.5h1M351 595.5h1M357 595.5h1M359 595.5h1M365 595.5h1M368 595.5h1M371 595.5h1M373 595.5h1M375 595.5h1M383 595.5h1M387 595.5h1M348 596.5h2M352 596.5h1M354 596.5h2M358 596.5h1M360 596.5h2M367 596.5h1M369 596.5h1M375 596.5h1M402 596.5h1M331 597.5h1M341 597.5h1M349 597.5h1M353 597.5h3M361 597.5h1M367 597.5h1M369 597.5h1M371 597.5h2M376 597.5h1M384 597.5h1M387 597.5h1M396 597.5h1M402 597.5h1M341 598.5h1M348 598.5h1M351 598.5h2M356 598.5h1M358 598.5h1M360 598.5h2M363 598.5h2M367 598.5h1M369 598.5h1M371 598.5h2M375 598.5h1M384 598.5h1M410 598.5h1M328 599.5h1M353 599.5h1M355 599.5h1M357 599.5h1M360 599.5h1M364 599.5h1M367 599.5h1M370 599.5h1M373 599.5h1M376 599.5h1M378 599.5h1M385 599.5h1M334 600.5h1M345 600.5h2M359 600.5h3M367 600.5h1M376 600.5h1M380 600.5h1M389 600.5h1M340 601.5h1M346 601.5h1M348 601.5h2M353 601.5h3M359 601.5h1M368 601.5h1M379 601.5h1M383 601.5h1M388 601.5h1M303 602.5h1M330 602.5h1M333 602.5h2M342 602.5h1M345 602.5h1M347 602.5h2M361 602.5h1M363 602.5h1M365 602.5h2M369 602.5h1M371 602.5h1M381 602.5h1M335 603.5h1M341 603.5h1M344 603.5h1M352 603.5h3M361 603.5h2M366 603.5h2M370 603.5h1M375 603.5h1M377 603.5h1M386 603.5h1M414 603.5h1M351 604.5h1M355 604.5h1M358 604.5h3M366 604.5h1M368 604.5h1M371 604.5h2M384 604.5h1M386 604.5h1M363 605.5h1M366 605.5h1M378 605.5h1M384 605.5h1M387 605.5h1M409 605.5h1M335 606.5h1M348 606.5h1M350 606.5h1M360 606.5h1M363 606.5h2M385 606.5h1M388 606.5h1M337 607.5h2M356 607.5h2M365 607.5h1M368 607.5h1M375 607.5h1M379 607.5h1M393 607.5h1M346 608.5h1M352 608.5h1M354 608.5h1M357 608.5h3M363 608.5h1M365 608.5h3M369 608.5h1M378 608.5h1M383 608.5h1M389 608.5h1M397 608.5h1M347 609.5h1M353 609.5h2M363 609.5h2M383 609.5h1M338 610.5h1M342 610.5h1M350 610.5h1M352 610.5h2M358 610.5h1M367 610.5h1M379 610.5h1M332 611.5h1M343 611.5h1M351 611.5h1M360 611.5h1M370 611.5h1M381 611.5h1M353 612.5h1M356 612.5h1M363 612.5h1M365 612.5h1M368 612.5h1M374 612.5h1M379 612.5h1M382 612.5h1M330 613.5h1M346 613.5h1M352 613.5h1M358 613.5h1M363 613.5h1M378 613.5h1M346 614.5h1M361 614.5h1M369 614.5h1M374 614.5h1M378 614.5h1M395 614.5h1M349 615.5h1M351 615.5h1M355 615.5h1M364 615.5h1M391 615.5h1M352 616.5h1M363 616.5h1M370 616.5h1M331 617.5h1M334 617.5h1M346 617.5h1M351 617.5h1M325 618.5h1M337 618.5h1M357 618.5h1M361 618.5h1M381 618.5h1M322 619.5h1M350 619.5h1M352 619.5h1M356 619.5h1M358 619.5h1M361 619.5h1M371 619.5h1M386 619.5h1M395 619.5h1M330 620.5h1M358 620.5h1M366 620.5h1M357 621.5h1M372 621.5h1M382 621.5h1M345 622.5h1M361 622.5h1M353 623.5h1M356 623.5h1M377 623.5h1M381 624.5h1M363 625.5h1M366 625.5h1M377 625.5h1M335 626.5h1M351 626.5h1M329 627.5h1M325 628.5h1M331 628.5h1M347 629.5h1M353 629.5h1M366 629.5h1M368 629.5h1M391 629.5h1M324 630.5h1M364 630.5h1M380 630.5h1M393 631.5h1M351 632.5h1M353 632.5h1M359 632.5h1M312 635.5h1M341 635.5h1M353 635.5h1M327 636.5h1M359 636.5h1M326 637.5h1M369 639.5h1M325 640.5h1M317 642.5h1M378 642.5h1M341 643.5h1M379 644.5h1M351 645.5h1M374 647.5h1M343 648.5h1M383 649.5h1M339 650.5h1M345 651.5h1M324 652.5h1M320 653.5h1M370 654.5h1M331 655.5h1M329 657.5h1M338 663.5h1M338 666.5h1M348 666.5h1M363 666.5h1M367 666.5h1M380 666.5h1M384 666.5h2M402 666.5h1" stroke="#141414" stroke-opacity="0.68" stroke-width="1" fill="none" shape-rendering="crispEdges"/>
<path d="M475 470.5h1M459 471.5h1M472 473.5h1M475 473.5h1M466 474.5h1M474 474.5h1M466 475.5h1M475 476.5h1M448 477.5h1M390 478.5h1M476 478.5h1M414 479.5h1M408 481.5h1M440 481.5h1M451 481.5h1M467 481.5h1M452 482.5h2M454 484.5h1M464 484.5h1M400 485.5h1M420 485.5h1M457 485.5h1M462 485.5h1M451 487.5h1M459 487.5h1M465 488.5h1M396 489.5h1M416 489.5h1M418 489.5h1M462 489.5h1M392 490.5h1M416 490.5h1M465 490.5h1M392 491.5h1M421 491.5h1M463 491.5h1M400 492.5h1M410 492.5h1M444 492.5h1M449 492.5h2M458 492.5h1M460 492.5h1M476 492.5h1M393 493.5h1M446 493.5h2M394 494.5h1M411 494.5h1M443 494.5h1M452 494.5h1M465 494.5h1M471 494.5h1M391 495.5h1M403 495.5h1M424 495.5h1M465 495.5h2M469 495.5h2M448 496.5h1M454 496.5h1M398 497.5h1M403 497.5h1M423 497.5h1M458 497.5h1M443 498.5h1M451 498.5h1M442 499.5h1M386 500.5h1M397 500.5h1M412 500.5h1M461 500.5h1M398 501.5h1M400 501.5h1M406 501.5h1M413 501.5h1M459 501.5h1M404 502.5h1M415 502.5h1M388 503.5h1M417 503.5h1M439 503.5h1M448 503.5h1M405 504.5h1M379 505.5h1M391 505.5h1M405 505.5h1M415 505.5h1M447 505.5h1M458 505.5h1M387 506.5h2M390 506.5h1M392 506.5h1M396 506.5h1M440 506.5h1M443 506.5h1M463 506.5h1M387 507.5h1M393 507.5h1M403 507.5h1M435 507.5h1M446 507.5h1M449 507.5h1M457 507.5h1M370 508.5h1M394 508.5h1M443 508.5h2M450 508.5h1M399 509.5h1M411 509.5h1M446 509.5h1M347 510.5h1M369 510.5h1M388 510.5h1M447 510.5h1M449 510.5h1M451 510.5h1M458 510.5h1M372 511.5h1M367 512.5h1M378 512.5h1M387 512.5h1M392 512.5h1M394 512.5h1M400 512.5h1M464 512.5h1M405 513.5h1M452 513.5h1M454 514.5h1M360 515.5h1M369 515.5h1M374 515.5h1M400 515.5h1M403 515.5h1M406 515.5h1M400 516.5h1M413 516.5h1M445 516.5h1M373 517.5h1M391 517.5h1M395 517.5h1M410 517.5h1M414 517.5h1M451 517.5h1M459 517.5h1M377 518.5h1M413 518.5h1M440 518.5h1M449 518.5h1M344 519.5h1M374 519.5h1M378 519.5h1M380 519.5h1M390 519.5h1M392 519.5h1M476 519.5h1M375 520.5h1M378 520.5h1M459 520.5h1M464 520.5h1M374 521.5h1M384 521.5h1M400 521.5h1M407 521.5h1M380 522.5h1M390 522.5h1M394 522.5h1M396 522.5h1M402 522.5h1M408 522.5h1M445 522.5h1M379 523.5h1M386 523.5h1M349 524.5h1M390 524.5h1M392 524.5h1M397 524.5h1M419 524.5h1M434 524.5h1M456 524.5h1M358 525.5h1M370 525.5h1M376 525.5h1M379 525.5h1M387 525.5h2M390 525.5h1M449 525.5h1M362 526.5h1M379 526.5h1M382 526.5h1M435 526.5h1M402 527.5h1M404 527.5h1M406 527.5h1M423 527.5h1M448 527.5h1M367 528.5h1M373 528.5h1M384 528.5h1M394 528.5h1M407 528.5h1M415 528.5h1M365 529.5h1M383 529.5h2M411 529.5h1M446 529.5h1M376 530.5h1M380 530.5h1M397 530.5h1M402 530.5h1M435 530.5h1M380 531.5h1M382 531.5h1M388 531.5h1M391 531.5h1M398 531.5h1M364 532.5h1M375 532.5h1M377 532.5h1M389 532.5h1M392 532.5h1M398 532.5h1M354 533.5h1M374 533.5h2M379 533.5h1M384 533.5h2M388 533.5h2M393 533.5h1M397 533.5h1M400 533.5h1M402 533.5h1M352 534.5h1M374 534.5h1M381 534.5h1M360 535.5h1M380 535.5h1M385 535.5h1M387 535.5h3M392 535.5h1M410 535.5h1M379 536.5h1M383 536.5h2M390 536.5h1M404 536.5h1M408 536.5h1M352 537.5h1M360 537.5h1M364 537.5h1M368 537.5h1M375 537.5h2M380 537.5h1M384 537.5h1M386 537.5h1M391 537.5h2M420 537.5h1M445 537.5h1M370 538.5h2M373 538.5h1M375 538.5h1M382 538.5h2M389 538.5h1M392 538.5h1M396 538.5h1M415 538.5h1M358 539.5h1M363 539.5h1M371 539.5h1M378 539.5h1M384 539.5h1M386 539.5h1M400 539.5h1M406 539.5h1M376 540.5h1M378 540.5h1M382 540.5h1M384 540.5h2M387 540.5h1M391 540.5h1M310 541.5h1M365 541.5h1M372 541.5h1M377 541.5h1M381 541.5h1M393 541.5h1M399 541.5h1M351 542.5h1M362 542.5h1M379 542.5h1M382 542.5h1M384 542.5h2M391 542.5h1M396 542.5h1M374 543.5h1M376 543.5h3M381 543.5h1M383 543.5h1M389 543.5h1M391 543.5h1M405 543.5h1M372 544.5h2M383 544.5h1M378 545.5h1M380 545.5h1M384 545.5h1M392 545.5h1M396 545.5h1M361 546.5h1M369 546.5h1M373 546.5h3M378 546.5h1M380 546.5h1M362 547.5h1M370 547.5h1M372 547.5h1M381 547.5h1M385 547.5h1M401 547.5h1M347 548.5h1M354 548.5h1M361 548.5h1M367 548.5h4M373 548.5h3M379 548.5h3M383 548.5h2M389 548.5h1M391 548.5h1M397 548.5h1M400 548.5h1M403 548.5h1M362 549.5h1M365 549.5h1M370 549.5h1M379 549.5h1M389 549.5h1M394 549.5h1M398 549.5h1M400 549.5h1M339 550.5h1M350 550.5h1M367 550.5h3M380 550.5h1M383 550.5h1M389 550.5h1M397 550.5h1M342 551.5h1M352 551.5h1M362 551.5h1M372 551.5h1M374 551.5h3M380 551.5h1M383 551.5h1M385 551.5h2M389 551.5h1M391 551.5h1M393 551.5h1M399 551.5h1M407 551.5h1M360 552.5h1M364 552.5h2M369 552.5h3M374 552.5h2M378 552.5h1M380 552.5h1M383 552.5h1M387 552.5h1M391 552.5h1M399 552.5h2M406 552.5h2M412 552.5h1M364 553.5h1M372 553.5h1M375 553.5h4M382 553.5h1M385 553.5h1M387 553.5h1M390 553.5h1M397 553.5h1M401 553.5h1M403 553.5h2M411 553.5h1M335 554.5h1M356 554.5h2M362 554.5h1M372 554.5h1M377 554.5h1M381 554.5h3M387 554.5h1M394 554.5h1M398 554.5h1M418 554.5h1M342 555.5h1M349 555.5h1M351 555.5h1M358 555.5h1M361 555.5h1M367 555.5h1M369 555.5h1M371 555.5h1M373 555.5h1M376 555.5h1M381 555.5h3M387 555.5h1M390 555.5h1M392 555.5h1M359 556.5h1M363 556.5h1M374 556.5h1M376 556.5h4M383 556.5h1M399 556.5h1M343 557.5h1M355 557.5h2M359 557.5h2M362 557.5h1M365 557.5h1M370 557.5h2M375 557.5h3M379 557.5h2M383 557.5h1M385 557.5h1M388 557.5h1M393 557.5h2M349 558.5h1M355 558.5h1M367 558.5h1M369 558.5h1M372 558.5h2M378 558.5h1M382 558.5h2M388 558.5h1M396 558.5h1M404 558.5h1M330 559.5h1M345 559.5h2M359 559.5h1M367 559.5h1M372 559.5h1M376 559.5h1M379 559.5h1M381 559.5h1M386 559.5h1M392 559.5h1M394 559.5h1M396 559.5h1M403 559.5h1M407 559.5h1M341 560.5h1M350 560.5h1M352 560.5h1M368 560.5h3M372 560.5h2M376 560.5h1M378 560.5h4M383 560.5h1M385 560.5h1M387 560.5h2M390 560.5h1M398 560.5h1M363 561.5h2M367 561.5h1M370 561.5h3M377 561.5h1M379 561.5h1M381 561.5h2M385 561.5h2M389 561.5h1M391 561.5h2M394 561.5h1M406 561.5h1M416 561.5h1M340 562.5h1M351 562.5h1M355 562.5h1M358 562.5h2M370 562.5h3M375 562.5h2M378 562.5h1M381 562.5h3M387 562.5h2M343 563.5h1M351 563.5h1M357 563.5h2M360 563.5h1M366 563.5h1M371 563.5h1M373 563.5h1M375 563.5h2M378 563.5h4M384 563.5h2M388 563.5h1M306 564.5h1M347 564.5h1M353 564.5h2M356 564.5h3M360 564.5h1M367 564.5h1M369 564.5h4M375 564.5h1M385 564.5h2M388 564.5h2M391 564.5h2M395 564.5h1M354 565.5h1M357 565.5h1M361 565.5h1M364 565.5h2M367 565.5h3M373 565.5h1M375 565.5h1M377 565.5h1M379 565.5h2M385 565.5h1M388 565.5h2M391 565.5h1M395 565.5h1M397 565.5h1M399 565.5h2M404 565.5h1M414 565.5h1M354 566.5h1M356 566.5h1M368 566.5h1M371 566.5h1M374 566.5h5M381 566.5h1M386 566.5h3M390 566.5h1M395 566.5h1M402 566.5h1M329 567.5h1M344 567.5h1M356 567.5h1M362 567.5h1M364 567.5h1M367 567.5h2M370 567.5h5M380 567.5h5M387 567.5h1M392 567.5h1M346 568.5h1M354 568.5h1M357 568.5h1M360 568.5h1M362 568.5h1M364 568.5h1M367 568.5h1M369 568.5h1M375 568.5h2M381 568.5h1M383 568.5h1M385 568.5h1M395 568.5h1M328 569.5h1M331 569.5h1M344 569.5h1M353 569.5h2M356 569.5h1M359 569.5h1M363 569.5h1M365 569.5h1M367 569.5h2M370 569.5h5M376 569.5h1M378 569.5h1M381 569.5h2M386 569.5h2M389 569.5h2M392 569.5h1M395 569.5h1M405 569.5h1M341 570.5h1M359 570.5h3M363 570.5h4M370 570.5h4M378 570.5h4M383 570.5h1M386 570.5h1M388 570.5h2M392 570.5h1M334 571.5h1M351 571.5h2M357 571.5h1M359 571.5h3M363 571.5h1M365 571.5h1M367 571.5h1M371 571.5h5M380 571.5h1M385 571.5h2M388 571.5h2M392 571.5h1M338 572.5h1M343 572.5h1M348 572.5h1M357 572.5h1M359 572.5h1M363 572.5h1M365 572.5h1M367 572.5h3M371 572.5h3M375 572.5h1M385 572.5h1M393 572.5h2M398 572.5h1M410 572.5h1M344 573.5h1M346 573.5h1M357 573.5h3M363 573.5h1M365 573.5h1M370 573.5h5M376 573.5h2M381 573.5h1M384 573.5h1M387 573.5h1M389 573.5h1M402 573.5h1M338 574.5h1M343 574.5h1M345 574.5h1M353 574.5h1M359 574.5h3M364 574.5h2M367 574.5h1M372 574.5h3M376 574.5h1M379 574.5h1M381 574.5h1M383 574.5h3M388 574.5h2M391 574.5h1M399 574.5h1M405 574.5h1M342 575.5h1M353 575.5h1M356 575.5h1M358 575.5h1M360 575.5h1M364 575.5h4M369 575.5h2M372 575.5h1M376 575.5h2M379 575.5h1M383 575.5h1M386 575.5h1M392 575.5h1M336 576.5h1M347 576.5h1M361 576.5h1M365 576.5h1M368 576.5h2M371 576.5h2M374 576.5h4M385 576.5h1M388 576.5h1M390 576.5h2M393 576.5h2M349 577.5h1M352 577.5h1M354 577.5h2M357 577.5h2M360 577.5h2M366 577.5h1M368 577.5h1M371 577.5h1M374 577.5h3M378 577.5h1M382 577.5h3M394 577.5h1M410 577.5h1M338 578.5h1M345 578.5h1M350 578.5h1M354 578.5h2M357 578.5h4M362 578.5h1M364 578.5h4M369 578.5h1M372 578.5h2M375 578.5h2M384 578.5h4M389 578.5h1M343 579.5h1M351 579.5h2M354 579.5h1M358 579.5h1M360 579.5h1M363 579.5h1M366 579.5h1M368 579.5h4M375 579.5h1M381 579.5h1M388 579.5h2M397 579.5h1M356 580.5h1M360 580.5h1M362 580.5h2M365 580.5h1M367 580.5h1M370 580.5h9M380 580.5h2M388 580.5h1M390 580.5h1M404 580.5h1M342 581.5h1M353 581.5h1M356 581.5h1M358 581.5h2M361 581.5h1M363 581.5h1M365 581.5h6M373 581.5h4M379 581.5h1M381 581.5h1M384 581.5h3M389 581.5h1M342 582.5h1M344 582.5h1M347 582.5h3M359 582.5h2M363 582.5h1M365 582.5h2M370 582.5h1M377 582.5h1M379 582.5h4M386 582.5h1M388 582.5h2M393 582.5h1M335 583.5h1M342 583.5h2M349 583.5h1M361 583.5h1M363 583.5h1M365 583.5h1M367 583.5h2M370 583.5h1M373 583.5h2M377 583.5h1M381 583.5h1M383 583.5h1M385 583.5h1M399 583.5h2M343 584.5h1M346 584.5h1M353 584.5h1M357 584.5h1M364 584.5h2M369 584.5h1M371 584.5h1M376 584.5h3M380 584.5h1M386 584.5h1M389 584.5h1M395 584.5h2M341 585.5h1M354 585.5h1M356 585.5h1M358 585.5h1M360 585.5h1M366 585.5h4M371 585.5h3M375 585.5h1M380 585.5h1M384 585.5h3M389 585.5h2M394 585.5h1M351 586.5h1M356 586.5h2M362 586.5h1M365 586.5h2M368 586.5h2M371 586.5h1M373 586.5h1M375 586.5h1M378 586.5h2M383 586.5h1M386 586.5h1M393 586.5h1M336 587.5h1M339 587.5h1M346 587.5h2M349 587.5h1M355 587.5h1M358 587.5h1M361 587.5h1M364 587.5h2M369 587.5h1M372 587.5h3M377 587.5h1M380 587.5h1M384 587.5h1M303 588.5h1M329 588.5h1M348 588.5h1M355 588.5h1M358 588.5h1M364 588.5h1M369 588.5h2M372 588.5h1M376 588.5h2M379 588.5h2M383 588.5h1M388 588.5h1M390 588.5h1M339 589.5h1M342 589.5h1M346 589.5h2M350 589.5h1M353 589.5h2M356 589.5h1M362 589.5h1M370 589.5h1M372 589.5h3M379 589.5h1M381 589.5h1M384 589.5h1M389 589.5h1M345 590.5h2M349 590.5h1M353 590.5h2M359 590.5h3M364 590.5h2M368 590.5h1M371 590.5h1M376 590.5h2M380 590.5h1M394 590.5h1M410 590.5h1M350 591.5h1M354 591.5h1M358 591.5h1M362 591.5h2M365 591.5h1M370 591.5h6M379 591.5h1M387 591.5h1M391 591.5h1M402 591.5h1M341 592.5h1M349 592.5h1M352 592.5h1M354 592.5h1M357 592.5h1M359 592.5h1M362 592.5h4M367 592.5h3M372 592.5h1M378 592.5h1M380 592.5h1M388 592.5h1M390 592.5h1M398 592.5h1M402 592.5h1M330 593.5h1M335 593.5h1M348 593.5h1M351 593.5h1M357 593.5h1M362 593.5h2M366 593.5h1M368 593.5h1M370 593.5h1M373 593.5h1M380 593.5h1M382 593.5h1M388 593.5h2M392 593.5h1M334 594.5h1M347 594.5h1M349 594.5h1M360 594.5h1M362 594.5h1M368 594.5h1M370 594.5h1M373 594.5h2M379 594.5h2M422 594.5h1M345 595.5h1M355 595.5h1M358 595.5h1M363 595.5h1M365 595.5h1M367 595.5h1M369 595.5h3M379 595.5h1M384 595.5h1M388 595.5h1M392 595.5h1M414 595.5h1M337 596.5h1M344 596.5h1M346 596.5h1M348 596.5h1M354 596.5h2M358 596.5h2M363 596.5h1M365 596.5h1M376 596.5h2M380 596.5h1M383 596.5h1M353 597.5h2M356 597.5h1M365 597.5h1M372 597.5h1M375 597.5h1M379 597.5h1M386 597.5h1M389 597.5h1M334 598.5h1M339 598.5h1M347 598.5h1M349 598.5h1M352 598.5h2M355 598.5h2M359 598.5h2M363 598.5h1M366 598.5h1M369 598.5h1M371 598.5h2M376 598.5h1M379 598.5h1M387 598.5h1M389 598.5h1M391 598.5h1M326 599.5h1M335 599.5h1M350 599.5h1M354 599.5h1M357 599.5h1M359 599.5h1M361 599.5h1M365 599.5h1M368 599.5h1M381 599.5h1M390 599.5h1M336 600.5h1M342 600.5h1M345 600.5h1M348 600.5h2M362 600.5h2M378 600.5h1M385 600.5h1M390 600.5h1M392 600.5h1M414 600.5h1M325 601.5h1M344 601.5h1M350 601.5h1M363 601.5h3M370 601.5h1M373 601.5h1M377 601.5h1M386 601.5h1M314 602.5h1M335 602.5h1M342 602.5h1M346 602.5h1M348 602.5h1M353 602.5h1M356 602.5h2M359 602.5h1M364 602.5h1M371 602.5h1M373 602.5h1M386 602.5h2M356 603.5h1M359 603.5h5M370 603.5h1M377 603.5h1M386 603.5h1M388 603.5h1M332 604.5h1M340 604.5h1M354 604.5h1M360 604.5h3M365 604.5h1M341 605.5h1M351 605.5h1M358 605.5h1M362 605.5h1M375 605.5h1M377 605.5h2M345 606.5h1M356 606.5h1M359 606.5h1M364 606.5h1M370 606.5h2M376 606.5h1M378 606.5h1M383 606.5h1M386 606.5h1M338 607.5h1M343 607.5h2M348 607.5h1M356 607.5h1M359 607.5h1M361 607.5h1M363 607.5h1M367 607.5h2M371 607.5h1M374 607.5h1M376 607.5h1M380 607.5h1M389 607.5h1M325 608.5h1M340 608.5h1M360 608.5h1M364 608.5h1M370 608.5h2M327 609.5h1M335 609.5h1M350 609.5h1M359 609.5h1M362 609.5h1M372 609.5h1M378 609.5h1M333 610.5h1M346 610.5h1M354 610.5h1M362 610.5h3M371 610.5h1M403 610.5h1M425 610.5h1M348 611.5h1M350 611.5h1M370 611.5h1M382 611.5h1M401 611.5h1M335 612.5h1M339 612.5h1M350 612.5h1M356 612.5h2M361 612.5h1M367 612.5h1M374 612.5h1M379 612.5h1M385 612.5h1M404 612.5h1M321 613.5h1M352 613.5h1M364 613.5h1M368 613.5h1M377 613.5h1M353 614.5h1M358 614.5h1M364 614.5h1M338 615.5h1M346 615.5h1M352 615.5h1M356 615.5h1M364 615.5h3M339 616.5h1M363 616.5h1M372 616.5h1M333 617.5h1M337 617.5h1M344 617.5h3M359 617.5h1M369 617.5h1M386 617.5h1M331 618.5h1M335 618.5h1M344 618.5h1M347 618.5h1M362 618.5h1M339 619.5h1M358 619.5h1M319 620.5h1M327 620.5h1M343 620.5h1M359 620.5h1M401 620.5h1M341 621.5h1M353 621.5h1M368 621.5h1M340 622.5h1M355 622.5h1M359 622.5h1M370 622.5h1M372 622.5h1M374 622.5h1M362 623.5h1M370 623.5h1M349 624.5h2M376 624.5h1M333 625.5h1M371 626.5h1M355 627.5h1M343 628.5h1M344 629.5h1M372 629.5h1M381 629.5h1M387 629.5h1M373 630.5h1M321 632.5h1M323 633.5h1M327 633.5h1M341 634.5h1M376 634.5h1M381 635.5h1M394 635.5h1M350 636.5h1M348 637.5h1M375 637.5h1M344 638.5h1M395 638.5h1M349 639.5h1M311 640.5h1M348 641.5h1M353 641.5h1M360 641.5h1M397 641.5h1M363 642.5h1M306 643.5h1M338 645.5h1M374 655.5h1M404 655.5h1M419 655.5h1M348 666.5h1M351 666.5h1M353 666.5h1M358 666.5h1M365 666.5h1M367 666.5h1M372 666.5h1M374 666.5h1M386 666.5h1M388 666.5h1M391 666.5h1M394 666.5h1" stroke="#141414" stroke-opacity="0.68" stroke-width="1" fill="none" shape-rendering="crispEdges"/>
<path d="M467 469.5h1M477 469.5h1M453 470.5h1M484 470.5h1M416 471.5h1M463 472.5h1M467 472.5h1M459 473.5h1M476 474.5h1M449 475.5h1M460 475.5h1M472 475.5h1M474 475.5h1M477 476.5h1M420 477.5h1M473 477.5h1M460 478.5h2M466 478.5h1M474 478.5h1M424 480.5h1M474 480.5h1M473 481.5h1M411 483.5h1M459 483.5h1M452 484.5h1M455 484.5h1M466 484.5h1M464 485.5h2M453 486.5h1M467 486.5h1M471 486.5h2M411 487.5h1M452 487.5h1M460 487.5h2M466 487.5h1M471 487.5h1M394 488.5h1M445 488.5h1M457 488.5h1M461 488.5h1M464 488.5h1M485 488.5h1M412 489.5h1M454 489.5h1M456 489.5h1M476 489.5h1M446 490.5h1M456 490.5h1M458 490.5h1M451 491.5h1M402 492.5h1M408 492.5h1M410 492.5h1M420 492.5h1M421 493.5h1M450 493.5h1M458 493.5h2M411 494.5h1M427 494.5h1M450 494.5h1M455 494.5h1M457 494.5h1M471 494.5h1M474 494.5h1M424 495.5h1M426 495.5h1M418 496.5h1M443 496.5h1M459 496.5h1M467 496.5h1M423 497.5h1M449 497.5h1M467 497.5h1M480 497.5h1M450 498.5h2M455 498.5h1M396 499.5h1M407 499.5h2M387 500.5h1M392 500.5h1M399 500.5h1M455 500.5h1M459 500.5h1M390 501.5h1M400 501.5h1M449 501.5h1M474 501.5h1M392 502.5h1M400 502.5h1M449 502.5h1M359 503.5h1M401 503.5h1M452 503.5h1M392 504.5h1M399 504.5h1M401 504.5h1M448 504.5h1M451 504.5h1M458 504.5h2M368 505.5h1M407 505.5h1M421 505.5h1M440 505.5h1M445 505.5h1M468 505.5h1M385 506.5h1M393 506.5h1M406 506.5h1M409 506.5h1M419 506.5h1M425 506.5h1M442 506.5h1M452 506.5h1M454 506.5h1M387 507.5h1M451 507.5h1M455 507.5h1M458 507.5h1M394 508.5h1M457 508.5h1M397 509.5h1M442 509.5h2M462 509.5h1M466 509.5h1M387 510.5h2M395 510.5h1M444 510.5h1M452 510.5h1M382 511.5h1M384 511.5h1M391 511.5h1M397 511.5h1M466 511.5h1M397 512.5h1M422 512.5h1M395 513.5h2M398 513.5h1M408 513.5h1M448 513.5h1M452 513.5h1M362 514.5h1M387 514.5h1M401 514.5h1M446 514.5h1M366 515.5h1M375 515.5h1M363 516.5h1M449 516.5h1M452 516.5h1M385 517.5h1M389 517.5h1M397 517.5h1M401 517.5h1M411 517.5h1M446 517.5h1M452 517.5h1M395 518.5h1M403 518.5h1M368 519.5h1M373 519.5h1M384 519.5h1M386 519.5h1M388 519.5h1M446 519.5h2M464 519.5h1M352 520.5h1M392 520.5h1M397 520.5h1M401 520.5h1M379 521.5h1M390 521.5h1M400 521.5h1M452 521.5h1M459 521.5h1M394 522.5h1M402 522.5h1M392 523.5h1M402 523.5h1M409 523.5h1M420 523.5h1M341 524.5h1M359 524.5h1M376 524.5h1M381 524.5h1M392 524.5h1M400 524.5h1M403 524.5h1M380 525.5h1M387 525.5h1M394 525.5h1M397 526.5h1M356 527.5h1M375 527.5h1M381 527.5h1M435 527.5h1M363 528.5h1M390 528.5h1M412 528.5h1M326 529.5h1M369 529.5h1M376 529.5h1M390 529.5h1M406 529.5h1M382 530.5h1M388 530.5h1M399 530.5h1M435 530.5h1M356 531.5h1M372 531.5h3M377 531.5h1M380 531.5h1M387 531.5h1M389 531.5h2M394 531.5h1M398 531.5h1M360 532.5h1M373 532.5h1M379 532.5h1M391 532.5h1M409 532.5h1M441 532.5h1M374 533.5h2M379 533.5h1M382 533.5h1M385 533.5h1M406 533.5h1M362 534.5h1M365 534.5h1M377 534.5h1M383 534.5h1M386 534.5h1M388 534.5h1M390 534.5h1M402 534.5h1M368 535.5h1M381 535.5h1M389 535.5h1M401 535.5h1M361 536.5h1M364 536.5h1M370 536.5h1M379 536.5h1M384 536.5h1M386 536.5h1M391 536.5h1M399 536.5h1M349 537.5h1M361 537.5h1M382 537.5h1M387 537.5h1M391 537.5h1M400 537.5h1M402 537.5h1M371 538.5h1M374 538.5h1M383 538.5h1M387 538.5h1M390 538.5h1M394 538.5h1M382 539.5h1M387 539.5h1M391 539.5h3M372 540.5h1M376 540.5h1M387 540.5h1M373 541.5h2M379 541.5h1M381 541.5h1M383 541.5h3M390 541.5h1M395 541.5h1M410 541.5h1M369 542.5h1M382 542.5h1M393 542.5h1M357 543.5h1M362 543.5h1M365 543.5h1M367 543.5h1M376 543.5h1M381 543.5h1M389 543.5h1M392 543.5h1M401 543.5h1M408 543.5h1M318 544.5h1M365 544.5h1M369 544.5h1M382 544.5h1M385 544.5h1M390 544.5h1M392 544.5h1M398 544.5h1M402 544.5h1M404 544.5h1M352 545.5h1M358 545.5h1M360 545.5h1M370 545.5h1M382 545.5h1M385 545.5h2M391 545.5h1M400 545.5h1M353 546.5h1M371 546.5h1M375 546.5h2M381 546.5h1M383 546.5h3M387 546.5h1M362 547.5h1M364 547.5h1M366 547.5h1M376 547.5h1M378 547.5h1M381 547.5h1M383 547.5h1M385 547.5h1M387 547.5h3M438 547.5h1M344 548.5h1M354 548.5h1M382 548.5h3M386 548.5h1M389 548.5h1M394 548.5h1M402 548.5h1M325 549.5h1M356 549.5h1M361 549.5h1M363 549.5h1M373 549.5h1M382 549.5h2M385 549.5h1M403 549.5h1M409 549.5h1M354 550.5h1M358 550.5h1M367 550.5h2M372 550.5h1M376 550.5h1M378 550.5h2M382 550.5h1M389 550.5h1M398 550.5h2M407 550.5h1M360 551.5h1M371 551.5h3M375 551.5h2M385 551.5h1M388 551.5h1M397 551.5h1M408 551.5h1M354 552.5h1M361 552.5h1M363 552.5h1M365 552.5h1M370 552.5h1M375 552.5h1M377 552.5h1M380 552.5h2M383 552.5h1M385 552.5h1M388 552.5h1M395 552.5h1M360 553.5h1M362 553.5h1M369 553.5h5M375 553.5h2M381 553.5h2M384 553.5h1M386 553.5h1M388 553.5h1M394 553.5h1M402 553.5h1M409 553.5h1M411 553.5h1M418 553.5h1M301 554.5h1M366 554.5h2M370 554.5h1M373 554.5h2M377 554.5h1M381 554.5h1M386 554.5h1M394 554.5h1M399 554.5h1M361 555.5h1M365 555.5h2M369 555.5h1M376 555.5h1M381 555.5h3M388 555.5h2M401 555.5h1M361 556.5h1M366 556.5h1M368 556.5h1M373 556.5h1M375 556.5h1M382 556.5h3M357 557.5h2M361 557.5h1M363 557.5h4M371 557.5h1M373 557.5h1M381 557.5h1M386 557.5h1M388 557.5h1M397 557.5h1M418 557.5h1M364 558.5h1M366 558.5h1M373 558.5h1M375 558.5h2M378 558.5h3M386 558.5h1M388 558.5h1M404 558.5h1M332 559.5h1M343 559.5h1M357 559.5h1M370 559.5h1M373 559.5h1M376 559.5h1M378 559.5h1M380 559.5h2M383 559.5h1M352 560.5h1M360 560.5h2M363 560.5h1M367 560.5h1M375 560.5h1M380 560.5h2M383 560.5h1M387 560.5h1M395 560.5h2M404 560.5h1M353 561.5h1M357 561.5h2M361 561.5h1M366 561.5h1M377 561.5h1M379 561.5h2M383 561.5h2M388 561.5h1M394 561.5h1M365 562.5h1M369 562.5h1M371 562.5h1M377 562.5h2M380 562.5h1M383 562.5h1M387 562.5h1M390 562.5h1M392 562.5h1M396 562.5h1M339 563.5h1M361 563.5h1M366 563.5h2M371 563.5h1M373 563.5h1M375 563.5h1M378 563.5h1M380 563.5h2M384 563.5h1M396 563.5h1M337 564.5h1M359 564.5h1M361 564.5h3M365 564.5h1M367 564.5h2M372 564.5h2M376 564.5h2M380 564.5h1M388 564.5h2M391 564.5h1M361 565.5h1M370 565.5h1M373 565.5h2M378 565.5h1M380 565.5h3M385 565.5h2M388 565.5h1M328 566.5h1M354 566.5h1M356 566.5h1M359 566.5h1M361 566.5h3M367 566.5h2M373 566.5h1M375 566.5h2M378 566.5h1M380 566.5h3M386 566.5h2M391 566.5h1M393 566.5h1M350 567.5h1M357 567.5h2M365 567.5h3M370 567.5h1M372 567.5h3M376 567.5h1M379 567.5h2M383 567.5h1M385 567.5h2M392 567.5h1M403 567.5h1M344 568.5h1M347 568.5h1M349 568.5h1M360 568.5h1M362 568.5h1M366 568.5h1M368 568.5h2M372 568.5h1M380 568.5h2M384 568.5h2M390 568.5h1M348 569.5h1M352 569.5h1M355 569.5h1M357 569.5h2M362 569.5h1M364 569.5h1M366 569.5h3M370 569.5h4M376 569.5h2M379 569.5h1M382 569.5h1M384 569.5h2M387 569.5h1M391 569.5h2M419 569.5h1M441 569.5h1M349 570.5h1M351 570.5h1M353 570.5h2M358 570.5h3M365 570.5h1M371 570.5h1M373 570.5h1M377 570.5h1M379 570.5h2M385 570.5h2M392 570.5h3M399 570.5h1M413 570.5h1M343 571.5h1M351 571.5h1M353 571.5h2M358 571.5h1M366 571.5h3M371 571.5h1M373 571.5h1M375 571.5h2M383 571.5h1M386 571.5h2M398 571.5h1M407 571.5h1M340 572.5h1M348 572.5h1M362 572.5h7M370 572.5h2M373 572.5h1M375 572.5h2M382 572.5h2M385 572.5h2M322 573.5h1M334 573.5h1M338 573.5h1M353 573.5h1M362 573.5h2M366 573.5h2M370 573.5h5M376 573.5h2M380 573.5h2M392 573.5h1M399 573.5h1M346 574.5h1M358 574.5h3M362 574.5h1M366 574.5h5M372 574.5h1M374 574.5h1M380 574.5h1M382 574.5h1M386 574.5h1M388 574.5h1M390 574.5h1M407 574.5h1M422 574.5h1M323 575.5h1M337 575.5h1M349 575.5h1M352 575.5h1M354 575.5h1M357 575.5h1M367 575.5h2M370 575.5h1M372 575.5h1M374 575.5h2M377 575.5h2M381 575.5h1M383 575.5h1M387 575.5h1M392 575.5h1M331 576.5h1M335 576.5h1M348 576.5h1M358 576.5h1M360 576.5h1M363 576.5h4M369 576.5h2M372 576.5h3M376 576.5h1M378 576.5h1M380 576.5h3M384 576.5h1M387 576.5h1M399 576.5h1M337 577.5h1M344 577.5h1M347 577.5h1M355 577.5h2M361 577.5h1M363 577.5h1M367 577.5h1M369 577.5h2M378 577.5h1M381 577.5h1M384 577.5h1M388 577.5h1M342 578.5h1M347 578.5h1M351 578.5h1M354 578.5h4M360 578.5h6M367 578.5h1M370 578.5h2M375 578.5h1M377 578.5h6M390 578.5h1M397 578.5h1M338 579.5h1M343 579.5h1M351 579.5h1M353 579.5h1M356 579.5h1M359 579.5h1M361 579.5h1M366 579.5h3M371 579.5h1M373 579.5h2M377 579.5h1M379 579.5h4M385 579.5h1M391 579.5h1M330 580.5h1M352 580.5h1M354 580.5h4M359 580.5h2M362 580.5h1M366 580.5h1M368 580.5h1M370 580.5h2M375 580.5h1M377 580.5h1M380 580.5h1M382 580.5h3M387 580.5h2M391 580.5h1M394 580.5h1M335 581.5h1M352 581.5h1M354 581.5h1M356 581.5h1M359 581.5h1M363 581.5h2M366 581.5h1M369 581.5h10M380 581.5h2M386 581.5h1M388 581.5h1M391 581.5h1M396 581.5h1M305 582.5h1M337 582.5h1M351 582.5h1M355 582.5h4M362 582.5h3M367 582.5h1M369 582.5h2M372 582.5h1M374 582.5h2M377 582.5h4M382 582.5h1M384 582.5h1M386 582.5h2M390 582.5h1M344 583.5h1M349 583.5h1M352 583.5h1M355 583.5h3M360 583.5h1M362 583.5h3M366 583.5h4M371 583.5h1M373 583.5h2M376 583.5h3M381 583.5h1M387 583.5h1M418 583.5h1M336 584.5h1M342 584.5h1M362 584.5h1M364 584.5h4M369 584.5h4M375 584.5h1M377 584.5h2M318 585.5h1M339 585.5h1M350 585.5h1M358 585.5h1M361 585.5h1M363 585.5h2M366 585.5h1M368 585.5h1M370 585.5h1M377 585.5h1M379 585.5h2M393 585.5h1M347 586.5h1M353 586.5h2M356 586.5h2M360 586.5h1M362 586.5h2M366 586.5h1M368 586.5h1M372 586.5h1M376 586.5h2M379 586.5h2M387 586.5h1M394 586.5h1M347 587.5h1M350 587.5h3M354 587.5h1M356 587.5h2M360 587.5h1M364 587.5h2M368 587.5h2M371 587.5h3M375 587.5h1M377 587.5h1M379 587.5h1M382 587.5h1M398 587.5h1M325 588.5h1M347 588.5h2M351 588.5h2M357 588.5h1M360 588.5h3M366 588.5h6M373 588.5h1M375 588.5h2M382 588.5h2M386 588.5h1M395 588.5h1M327 589.5h1M332 589.5h1M338 589.5h1M343 589.5h2M346 589.5h1M350 589.5h1M352 589.5h3M357 589.5h4M363 589.5h2M369 589.5h2M378 589.5h1M380 589.5h4M388 589.5h1M390 589.5h1M404 589.5h1M343 590.5h1M348 590.5h3M352 590.5h1M363 590.5h3M371 590.5h4M376 590.5h2M379 590.5h2M383 590.5h1M395 590.5h1M346 591.5h1M351 591.5h2M355 591.5h1M359 591.5h1M366 591.5h1M368 591.5h2M372 591.5h2M377 591.5h2M388 591.5h1M394 591.5h1M405 591.5h2M340 592.5h1M344 592.5h1M346 592.5h4M352 592.5h1M357 592.5h1M365 592.5h1M370 592.5h3M376 592.5h1M378 592.5h1M380 592.5h2M383 592.5h1M387 592.5h1M397 592.5h1M349 593.5h1M360 593.5h1M363 593.5h1M365 593.5h1M367 593.5h3M371 593.5h3M378 593.5h1M380 593.5h1M384 593.5h1M342 594.5h1M344 594.5h1M348 594.5h1M358 594.5h1M360 594.5h2M363 594.5h3M367 594.5h3M372 594.5h1M374 594.5h1M378 594.5h1M390 594.5h2M407 594.5h1M329 595.5h1M360 595.5h2M364 595.5h1M368 595.5h3M373 595.5h1M375 595.5h2M382 595.5h1M309 596.5h1M313 596.5h1M345 596.5h1M348 596.5h1M352 596.5h1M356 596.5h1M359 596.5h1M362 596.5h1M365 596.5h1M372 596.5h1M376 596.5h2M380 596.5h1M382 596.5h2M392 596.5h1M330 597.5h1M336 597.5h1M340 597.5h4M345 597.5h1M348 597.5h1M353 597.5h1M356 597.5h2M360 597.5h1M363 597.5h1M368 597.5h1M371 597.5h1M373 597.5h1M400 597.5h1M336 598.5h1M344 598.5h1M349 598.5h1M351 598.5h1M354 598.5h1M358 598.5h4M363 598.5h2M366 598.5h1M368 598.5h2M372 598.5h1M377 598.5h1M381 598.5h1M384 598.5h1M387 598.5h1M390 598.5h1M343 599.5h1M348 599.5h2M351 599.5h1M358 599.5h1M360 599.5h4M368 599.5h1M376 599.5h1M381 599.5h1M384 599.5h1M391 599.5h1M406 599.5h1M348 600.5h2M361 600.5h1M363 600.5h1M373 600.5h1M377 600.5h1M380 600.5h1M306 601.5h1M333 601.5h1M338 601.5h1M340 601.5h1M353 601.5h1M356 601.5h3M363 601.5h1M366 601.5h1M370 601.5h1M375 601.5h1M379 601.5h2M383 601.5h1M339 602.5h1M346 602.5h1M355 602.5h1M358 602.5h1M362 602.5h1M368 602.5h1M371 602.5h1M377 602.5h1M380 602.5h1M390 602.5h1M345 603.5h1M349 603.5h1M351 603.5h2M357 603.5h1M363 603.5h1M368 603.5h1M373 603.5h1M383 603.5h2M386 603.5h1M393 603.5h2M345 604.5h1M348 604.5h1M353 604.5h1M356 604.5h1M363 604.5h2M366 604.5h1M369 604.5h2M372 604.5h1M375 604.5h1M391 604.5h1M326 605.5h1M335 605.5h1M341 605.5h1M343 605.5h1M348 605.5h1M354 605.5h1M358 605.5h2M363 605.5h1M385 605.5h1M330 606.5h2M339 606.5h1M349 606.5h1M356 606.5h1M358 606.5h2M363 606.5h1M366 606.5h1M369 606.5h1M378 606.5h1M385 606.5h1M337 607.5h1M341 607.5h1M347 607.5h1M355 607.5h1M366 607.5h1M399 607.5h1M334 608.5h1M336 608.5h1M343 608.5h1M346 608.5h1M355 608.5h1M358 608.5h1M362 608.5h1M367 608.5h1M369 608.5h1M372 608.5h1M377 608.5h1M379 608.5h1M390 608.5h1M358 609.5h1M361 609.5h1M368 609.5h1M370 609.5h1M373 609.5h1M339 610.5h1M351 610.5h1M364 610.5h1M366 610.5h1M368 610.5h2M371 610.5h2M375 610.5h1M378 610.5h1M332 611.5h1M343 611.5h1M354 611.5h2M358 611.5h1M360 611.5h1M364 611.5h1M368 611.5h1M371 611.5h1M389 611.5h1M394 611.5h1M366 612.5h1M371 612.5h1M344 613.5h2M351 613.5h1M362 613.5h1M375 613.5h1M393 613.5h1M339 614.5h1M351 614.5h1M358 614.5h2M361 614.5h1M363 614.5h2M345 615.5h1M350 615.5h1M376 615.5h1M336 616.5h1M345 616.5h1M355 616.5h1M360 616.5h1M372 616.5h1M306 617.5h1M330 617.5h1M358 617.5h1M361 617.5h1M375 617.5h1M405 617.5h1M344 618.5h1M355 618.5h1M360 618.5h1M381 618.5h1M332 619.5h1M358 619.5h1M373 619.5h1M389 619.5h1M329 620.5h1M333 620.5h1M348 620.5h1M352 620.5h2M363 620.5h1M396 620.5h1M332 621.5h1M339 621.5h1M344 621.5h1M349 621.5h1M354 621.5h1M365 621.5h2M340 622.5h1M343 622.5h1M368 622.5h1M363 623.5h1M380 623.5h1M396 623.5h1M369 624.5h2M341 625.5h1M350 625.5h1M357 625.5h1M349 626.5h1M362 626.5h1M370 626.5h1M375 626.5h1M381 626.5h1M314 627.5h1M320 627.5h1M379 627.5h1M344 628.5h1M361 628.5h1M316 629.5h1M376 629.5h1M352 630.5h1M324 631.5h1M350 631.5h2M363 631.5h1M383 631.5h1M376 632.5h1M363 633.5h1M377 633.5h1M332 634.5h1M348 634.5h1M374 635.5h1M397 636.5h1M363 637.5h1M340 638.5h1M388 638.5h1M348 641.5h1M337 646.5h1M322 647.5h1M376 648.5h1M369 649.5h1M391 651.5h1M309 653.5h1M355 655.5h1M394 656.5h1M349 664.5h1M356 666.5h1M367 666.5h1M370 666.5h1M385 666.5h1M396 666.5h1" stroke="#141414" stroke-opacity="0.68" stroke-width="1" fill="none" shape-rendering="crispEdges"/>
<rect x="299.4" y="466.8" width="201.6" height="200.5" fill="none" stroke="#333" stroke-width="1.1"/>
<line x1="430.7" y1="466.8" x2="430.7" y2="667.3" stroke="#2a2a2a" stroke-width="1.2"/>
<line x1="299.4" y1="531.9" x2="501.0" y2="531.9" stroke="#2a2a2a" stroke-width="1.2"/>
<path d="M314.6 667.7v-1.4M298.5 652.2h1.4M323.4 667.7v-1.4M298.5 643.4h1.4M329.7 667.7v-1.4M298.5 637.1h1.4M334.6 667.7v-1.4M298.5 632.3h1.4M338.6 667.7v-1.4M298.5 628.3h1.4M342.0 667.7v-1.4M298.5 624.9h1.4M344.9 667.7v-1.4M298.5 622.0h1.4M347.5 667.7v-1.4M298.5 619.5h1.4M365.0 667.7v-1.4M298.5 602.1h1.4M373.8 667.7v-1.4M298.5 593.3h1.4M380.1 667.7v-1.4M298.5 587.0h1.4M385.0 667.7v-1.4M298.5 582.1h1.4M389.0 667.7v-1.4M298.5 578.2h1.4M392.4 667.7v-1.4M298.5 574.8h1.4M395.3 667.7v-1.4M298.5 571.9h1.4M397.9 667.7v-1.4M298.5 569.3h1.4M415.4 667.7v-1.4M298.5 552.0h1.4M424.2 667.7v-1.4M298.5 543.1h1.4M430.5 667.7v-1.4M298.5 536.9h1.4M435.4 667.7v-1.4M298.5 532.0h1.4M439.4 667.7v-1.4M298.5 528.0h1.4M442.8 667.7v-1.4M298.5 524.7h1.4M445.7 667.7v-1.4M298.5 521.8h1.4M448.3 667.7v-1.4M298.5 519.2h1.4M465.8 667.7v-1.4M298.5 501.8h1.4M474.6 667.7v-1.4M298.5 493.0h1.4M480.9 667.7v-1.4M298.5 486.7h1.4M485.8 667.7v-1.4M298.5 481.9h1.4M489.8 667.7v-1.4M298.5 477.9h1.4M493.2 667.7v-1.4M298.5 474.6h1.4M496.1 667.7v-1.4M298.5 471.7h1.4M498.7 667.7v-1.4M298.5 469.1h1.4" stroke="#333" stroke-width="0.8" fill="none"/>
<text transform="translate(23.6,677.3) scale(0.880,1)" font-family="'Liberation Sans', sans-serif" font-size="9.4px" fill="#1a1a1a" stroke="#1a1a1a" stroke-width="0.2" text-anchor="start">10<tspan font-size="5.4px" dx="0.3" dy="-3.0">0</tspan></text>
<text transform="translate(20.8,668.0) rotate(-90) scale(0.880,1)" font-family="'Liberation Sans', sans-serif" font-size="9.2px" fill="#1a1a1a" stroke="#1a1a1a" stroke-width="0.2" text-anchor="start">10<tspan font-size="5.4px" dx="0.3" dy="-3.0">0</tspan></text>
<text transform="translate(74.0,677.3) scale(0.880,1)" font-family="'Liberation Sans', sans-serif" font-size="9.4px" fill="#1a1a1a" stroke="#1a1a1a" stroke-width="0.2" text-anchor="start">10<tspan font-size="5.4px" dx="0.3" dy="-3.0">1</tspan></text>
<text transform="translate(20.8,617.9) rotate(-90) scale(0.880,1)" font-family="'Liberation Sans', sans-serif" font-size="9.2px" fill="#1a1a1a" stroke="#1a1a1a" stroke-width="0.2" text-anchor="start">10<tspan font-size="5.4px" dx="0.3" dy="-3.0">1</tspan></text>
<text transform="translate(124.5,677.3) scale(0.880,1)" font-family="'Liberation Sans', sans-serif" font-size="9.4px" fill="#1a1a1a" stroke="#1a1a1a" stroke-width="0.2" text-anchor="start">10<tspan font-size="5.4px" dx="0.3" dy="-3.0">2</tspan></text>
<text transform="translate(20.8,567.8) rotate(-90) scale(0.880,1)" font-family="'Liberation Sans', sans-serif" font-size="9.2px" fill="#1a1a1a" stroke="#1a1a1a" stroke-width="0.2" text-anchor="start">10<tspan font-size="5.4px" dx="0.3" dy="-3.0">2</tspan></text>
<text transform="translate(174.9,677.3) scale(0.880,1)" font-family="'Liberation Sans', sans-serif" font-size="9.4px" fill="#1a1a1a" stroke="#1a1a1a" stroke-width="0.2" text-anchor="start">10<tspan font-size="5.4px" dx="0.3" dy="-3.0">3</tspan></text>
<text transform="translate(20.8,517.6) rotate(-90) scale(0.880,1)" font-family="'Liberation Sans', sans-serif" font-size="9.2px" fill="#1a1a1a" stroke="#1a1a1a" stroke-width="0.2" text-anchor="start">10<tspan font-size="5.4px" dx="0.3" dy="-3.0">3</tspan></text>
<text transform="translate(225.4,677.3) scale(0.880,1)" font-family="'Liberation Sans', sans-serif" font-size="9.4px" fill="#1a1a1a" stroke="#1a1a1a" stroke-width="0.2" text-anchor="start">10<tspan font-size="5.4px" dx="0.3" dy="-3.0">4</tspan></text>
<text transform="translate(20.8,467.5) rotate(-90) scale(0.880,1)" font-family="'Liberation Sans', sans-serif" font-size="9.2px" fill="#1a1a1a" stroke="#1a1a1a" stroke-width="0.2" text-anchor="start">10<tspan font-size="5.4px" dx="0.3" dy="-3.0">4</tspan></text>
<text transform="translate(10.1,588.0) rotate(-90) scale(0.910,1)" font-family="'Liberation Sans', sans-serif" font-size="8.7px" fill="#1a1a1a" stroke="#1a1a1a" stroke-width="0.2" text-anchor="start">CD38-FITC</text>
<text transform="translate(105.1,686.5) scale(0.955,1)" font-family="'Liberation Sans', sans-serif" font-size="8.6px" fill="#1a1a1a" stroke="#1a1a1a" stroke-width="0.2" text-anchor="start">Apo2.7-PE</text>
<text transform="translate(299.1,677.0) scale(0.880,1)" font-family="'Liberation Sans', sans-serif" font-size="9.4px" fill="#1a1a1a" stroke="#1a1a1a" stroke-width="0.2" text-anchor="start">10<tspan font-size="5.4px" dx="0.3" dy="-3.0">0</tspan></text>
<text transform="translate(296.3,667.7) rotate(-90) scale(0.880,1)" font-family="'Liberation Sans', sans-serif" font-size="9.2px" fill="#1a1a1a" stroke="#1a1a1a" stroke-width="0.2" text-anchor="start">10<tspan font-size="5.4px" dx="0.3" dy="-3.0">0</tspan></text>
<text transform="translate(349.5,677.0) scale(0.880,1)" font-family="'Liberation Sans', sans-serif" font-size="9.4px" fill="#1a1a1a" stroke="#1a1a1a" stroke-width="0.2" text-anchor="start">10<tspan font-size="5.4px" dx="0.3" dy="-3.0">1</tspan></text>
<text transform="translate(296.3,617.6) rotate(-90) scale(0.880,1)" font-family="'Liberation Sans', sans-serif" font-size="9.2px" fill="#1a1a1a" stroke="#1a1a1a" stroke-width="0.2" text-anchor="start">10<tspan font-size="5.4px" dx="0.3" dy="-3.0">1</tspan></text>
<text transform="translate(399.9,677.0) scale(0.880,1)" font-family="'Liberation Sans', sans-serif" font-size="9.4px" fill="#1a1a1a" stroke="#1a1a1a" stroke-width="0.2" text-anchor="start">10<tspan font-size="5.4px" dx="0.3" dy="-3.0">2</tspan></text>
<text transform="translate(296.3,567.4) rotate(-90) scale(0.880,1)" font-family="'Liberation Sans', sans-serif" font-size="9.2px" fill="#1a1a1a" stroke="#1a1a1a" stroke-width="0.2" text-anchor="start">10<tspan font-size="5.4px" dx="0.3" dy="-3.0">2</tspan></text>
<text transform="translate(450.3,677.0) scale(0.880,1)" font-family="'Liberation Sans', sans-serif" font-size="9.4px" fill="#1a1a1a" stroke="#1a1a1a" stroke-width="0.2" text-anchor="start">10<tspan font-size="5.4px" dx="0.3" dy="-3.0">3</tspan></text>
<text transform="translate(296.3,517.3) rotate(-90) scale(0.880,1)" font-family="'Liberation Sans', sans-serif" font-size="9.2px" fill="#1a1a1a" stroke="#1a1a1a" stroke-width="0.2" text-anchor="start">10<tspan font-size="5.4px" dx="0.3" dy="-3.0">3</tspan></text>
<text transform="translate(500.7,677.0) scale(0.880,1)" font-family="'Liberation Sans', sans-serif" font-size="9.4px" fill="#1a1a1a" stroke="#1a1a1a" stroke-width="0.2" text-anchor="start">10<tspan font-size="5.4px" dx="0.3" dy="-3.0">4</tspan></text>
<text transform="translate(296.3,467.2) rotate(-90) scale(0.880,1)" font-family="'Liberation Sans', sans-serif" font-size="9.2px" fill="#1a1a1a" stroke="#1a1a1a" stroke-width="0.2" text-anchor="start">10<tspan font-size="5.4px" dx="0.3" dy="-3.0">4</tspan></text>
<text transform="translate(285.6,587.6) rotate(-90) scale(0.910,1)" font-family="'Liberation Sans', sans-serif" font-size="8.7px" fill="#1a1a1a" stroke="#1a1a1a" stroke-width="0.2" text-anchor="start">CD38-FITC</text>
<text transform="translate(380.6,686.2) scale(0.955,1)" font-family="'Liberation Sans', sans-serif" font-size="8.6px" fill="#1a1a1a" stroke="#1a1a1a" stroke-width="0.2" text-anchor="start">Apo2.7-PE</text>
<text transform="translate(1.3,453.0) scale(0.880,1)" font-family="'Liberation Sans', sans-serif" font-size="9.4px" fill="#1a1a1a" stroke="#1a1a1a" stroke-width="0.2" text-anchor="start">21.3%</text>
<text transform="translate(224.6,452.2) scale(0.880,1)" font-family="'Liberation Sans', sans-serif" font-size="9.4px" fill="#1a1a1a" stroke="#1a1a1a" stroke-width="0.2" text-anchor="start">2.7%</text>
<text transform="translate(1.6,687.3) scale(0.880,1)" font-family="'Liberation Sans', sans-serif" font-size="9.4px" fill="#1a1a1a" stroke="#1a1a1a" stroke-width="0.2" text-anchor="start">75.7%</text>
<text transform="translate(225.1,686.7) scale(0.880,1)" font-family="'Liberation Sans', sans-serif" font-size="9.4px" fill="#1a1a1a" stroke="#1a1a1a" stroke-width="0.2" text-anchor="start">0.2%</text>
<text transform="translate(276.8,451.9) scale(0.880,1)" font-family="'Liberation Sans', sans-serif" font-size="9.4px" fill="#1a1a1a" stroke="#1a1a1a" stroke-width="0.2" text-anchor="start">12.0%</text>
<text transform="translate(499.9,451.0) scale(0.880,1)" font-family="'Liberation Sans', sans-serif" font-size="9.4px" fill="#1a1a1a" stroke="#1a1a1a" stroke-width="0.2" text-anchor="start">8.5%</text>
<text transform="translate(277.1,686.7) scale(0.880,1)" font-family="'Liberation Sans', sans-serif" font-size="9.4px" fill="#1a1a1a" stroke="#1a1a1a" stroke-width="0.2" text-anchor="start">78.3%</text>
<text transform="translate(501.2,686.0) scale(0.880,1)" font-family="'Liberation Sans', sans-serif" font-size="9.4px" fill="#1a1a1a" stroke="#1a1a1a" stroke-width="0.2" text-anchor="start">1.2%</text>
<text x="71.0" y="459.7" font-family="'Liberation Serif', serif" font-size="16.0px" font-weight="bold" font-style="normal" text-anchor="start" fill="#0a0a0a" stroke="#0a0a0a" stroke-width="0.25" textLength="100.2" lengthAdjust="spacingAndGlyphs">MM pt control</text>
<text x="306.2" y="459.8" font-family="'Liberation Serif', serif" font-size="16.4px" font-weight="bold" font-style="normal" text-anchor="start" fill="#0a0a0a" stroke="#0a0a0a" stroke-width="0.25" textLength="190.3" lengthAdjust="spacingAndGlyphs">MM pt TRAIL 1000 ng/mL</text>
</g>
</svg>
</body></html>
